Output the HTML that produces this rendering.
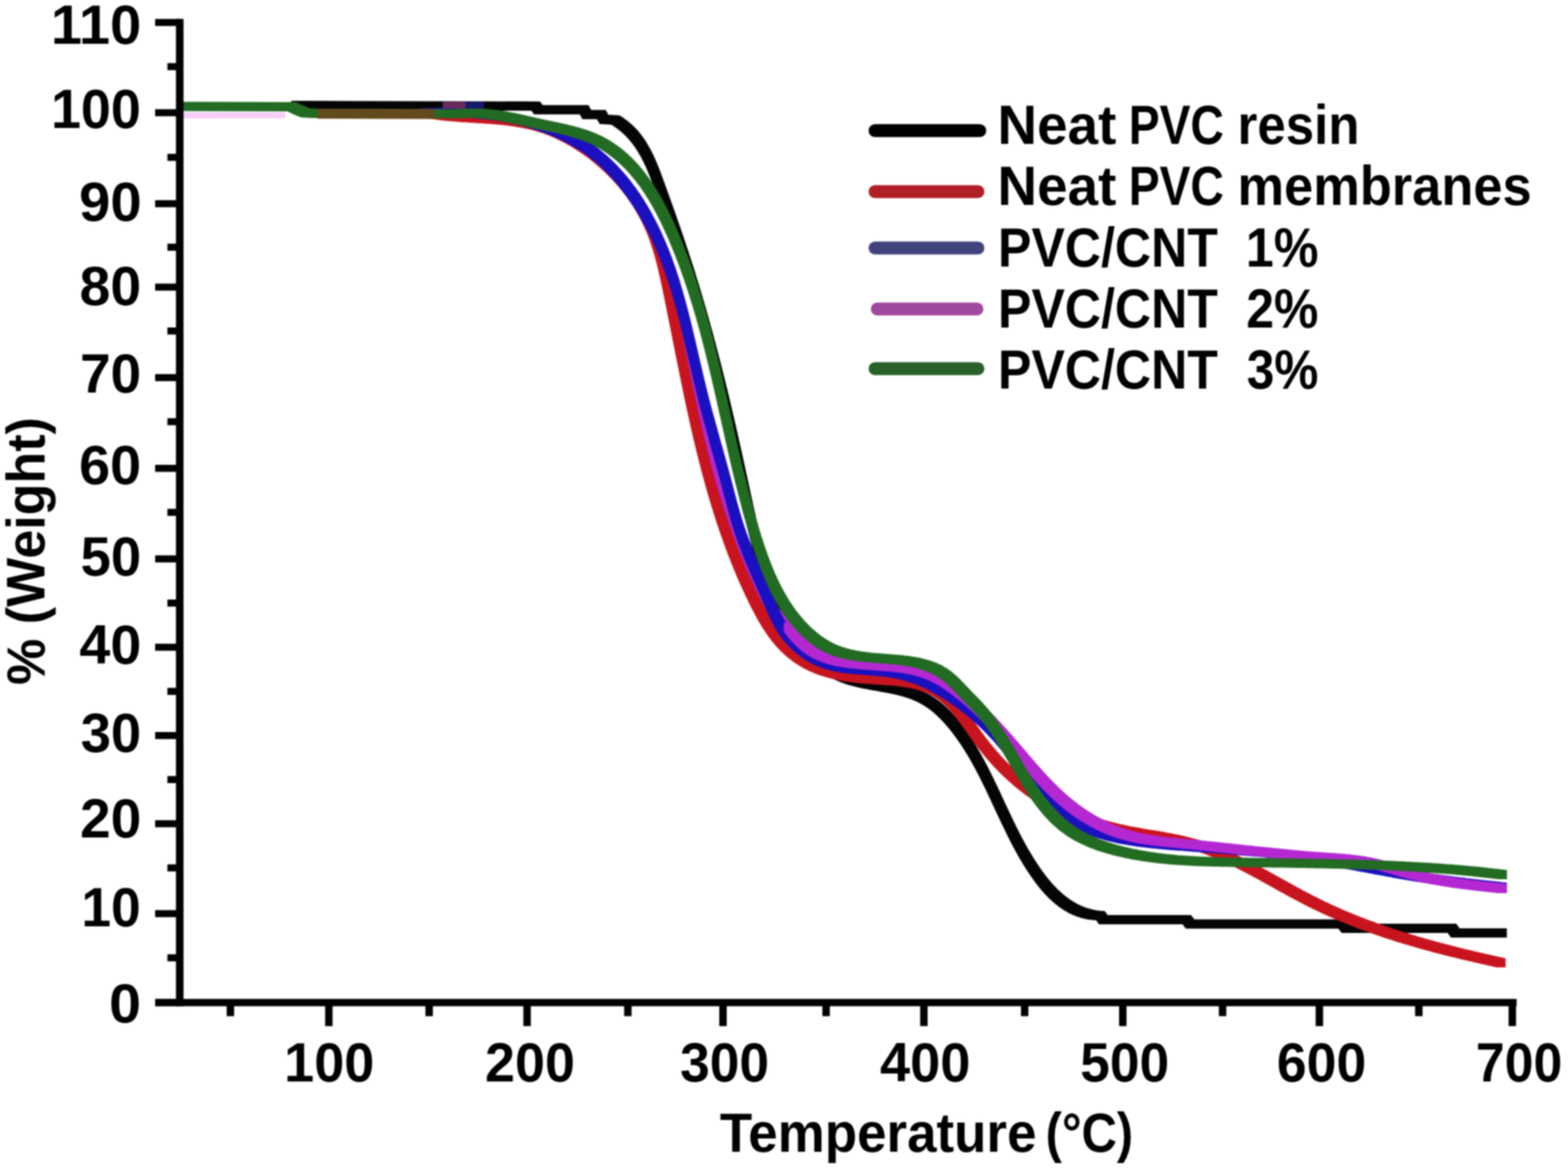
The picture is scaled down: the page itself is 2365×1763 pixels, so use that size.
<!DOCTYPE html>
<html><head><meta charset="utf-8"><title>TGA curves</title>
<style>
html,body{margin:0;padding:0;background:#fff;}
svg{display:block;}
</style></head>
<body>
<svg width="2365" height="1763" viewBox="0 0 2365 1763">
<defs><filter id="soft" filterUnits="userSpaceOnUse" x="0" y="0" width="2365" height="1763" color-interpolation-filters="sRGB"><feGaussianBlur stdDeviation="1.0"/></filter></defs>
<rect width="2365" height="1763" fill="#fff"/>
<g filter="url(#soft)">
<rect width="2365" height="1763" fill="#fff"/>
<defs>
<path id="ck" d="M446.0,159.0 L808.0,160.0 L812.0,165.4 L881.0,165.4 L885.0,172.7 L907.0,172.7 L911.0,180.0 L928.0,181.0 L928.0,181.0 L930.8,182.7 L933.4,184.4 L936.0,186.3 L938.6,188.1 L941.0,190.0 L943.4,192.0 L945.7,194.0 L947.9,196.0 L950.1,198.1 L952.1,200.3 L954.2,202.5 L956.1,204.7 L958.0,207.0 L959.9,209.3 L961.7,211.6 L963.4,214.0 L965.1,216.4 L966.7,218.9 L968.3,221.4 L969.8,223.9 L971.3,226.4 L972.8,229.0 L974.2,231.6 L975.5,234.2 L976.9,236.9 L978.2,239.5 L979.5,242.2 L980.7,244.9 L981.9,247.7 L983.1,250.4 L984.2,253.2 L985.4,256.0 L986.5,258.7 L987.6,261.5 L988.7,264.3 L989.8,267.2 L990.8,270.0 L991.9,272.8 L992.9,275.6 L993.9,278.5 L995.0,281.3 L996.0,284.2 L997.0,287.0 L998.1,289.8 L999.1,292.7 L1000.1,295.5 L1001.1,298.4 L1002.2,301.2 L1003.2,304.0 L1004.2,306.9 L1005.2,309.7 L1006.2,312.6 L1007.2,315.4 L1008.2,318.2 L1009.3,321.1 L1010.3,323.9 L1011.3,326.8 L1012.3,329.6 L1013.3,332.4 L1014.3,335.3 L1015.2,338.1 L1016.2,341.0 L1017.2,343.8 L1018.2,346.7 L1019.2,349.5 L1020.2,352.3 L1021.1,355.2 L1022.1,358.0 L1023.1,360.9 L1024.1,363.7 L1025.0,366.6 L1026.0,369.4 L1026.9,372.3 L1027.9,375.1 L1028.8,378.0 L1029.8,380.8 L1030.7,383.7 L1031.7,386.5 L1032.6,389.4 L1033.5,392.3 L1034.5,395.1 L1035.4,398.0 L1036.3,400.8 L1037.2,403.7 L1038.2,406.5 L1039.1,409.4 L1040.0,412.3 L1040.9,415.1 L1041.8,418.0 L1042.7,420.9 L1043.5,423.7 L1044.4,426.6 L1045.3,429.5 L1046.2,432.3 L1047.1,435.2 L1047.9,438.1 L1048.8,440.9 L1049.7,443.8 L1050.5,446.7 L1051.4,449.6 L1052.2,452.4 L1053.1,455.3 L1053.9,458.2 L1054.8,461.1 L1055.6,463.9 L1056.4,466.8 L1057.3,469.7 L1058.1,472.6 L1058.9,475.5 L1059.7,478.3 L1060.6,481.2 L1061.4,484.1 L1062.2,487.0 L1063.0,489.9 L1063.8,492.8 L1064.6,495.7 L1065.4,498.6 L1066.2,501.4 L1067.0,504.3 L1067.8,507.2 L1068.6,510.1 L1069.4,513.0 L1070.1,515.9 L1070.9,518.8 L1071.7,521.7 L1072.5,524.6 L1073.2,527.5 L1074.0,530.4 L1074.8,533.3 L1075.5,536.2 L1076.3,539.1 L1077.0,542.0 L1077.8,544.9 L1078.5,547.8 L1079.3,550.7 L1080.0,553.6 L1080.8,556.5 L1081.5,559.4 L1082.2,562.3 L1083.0,565.2 L1083.7,568.2 L1084.4,571.1 L1085.1,574.0 L1085.9,576.9 L1086.6,579.8 L1087.3,582.7 L1088.0,585.6 L1088.7,588.5 L1089.5,591.5 L1090.2,594.4 L1090.9,597.3 L1091.6,600.2 L1092.3,603.1 L1093.0,606.1 L1093.7,609.0 L1094.4,611.9 L1095.1,614.8 L1095.8,617.7 L1096.5,620.7 L1097.1,623.6 L1097.8,626.5 L1098.5,629.4 L1099.2,632.4 L1099.9,635.3 L1100.6,638.2 L1101.2,641.2 L1101.9,644.1 L1102.6,647.0 L1103.3,650.0 L1103.9,652.9 L1104.6,655.8 L1105.3,658.8 L1105.9,661.7 L1106.6,664.6 L1107.3,667.6 L1107.9,670.5 L1108.6,673.4 L1109.2,676.4 L1109.9,679.3 L1110.5,682.3 L1111.2,685.2 L1111.8,688.1 L1112.5,691.1 L1113.1,694.0 L1113.8,697.0 L1114.4,699.9 L1115.1,702.9 L1115.7,705.8 L1116.4,708.7 L1117.0,711.7 L1117.7,714.6 L1118.3,717.6 L1118.9,720.5 L1119.6,723.5 L1120.2,726.4 L1120.8,729.4 L1121.5,732.3 L1122.1,735.3 L1122.7,738.3 L1123.4,741.2 L1124.0,744.2 L1124.7,747.1 L1125.3,750.1 L1125.9,753.0 L1126.6,756.0 L1127.2,758.9 L1127.9,761.9 L1128.5,764.8 L1129.1,767.8 L1129.8,770.7 L1130.5,773.7 L1131.1,776.6 L1131.8,779.6 L1132.5,782.5 L1133.1,785.4 L1133.8,788.4 L1134.5,791.3 L1135.2,794.2 L1135.9,797.2 L1136.6,800.1 L1137.3,803.0 L1138.1,806.0 L1138.8,808.9 L1139.5,811.8 L1140.3,814.7 L1141.1,817.6 L1141.8,820.5 L1142.6,823.4 L1143.4,826.3 L1144.2,829.2 L1145.0,832.1 L1145.8,835.0 L1146.7,837.9 L1147.5,840.7 L1148.4,843.6 L1149.3,846.5 L1150.2,849.3 L1151.1,852.2 L1152.0,855.0 L1152.9,857.9 L1153.9,860.7 L1154.8,863.5 L1155.8,866.4 L1156.8,869.2 L1157.8,872.0 L1158.8,874.8 L1159.9,877.6 L1160.9,880.4 L1162.0,883.2 L1163.1,886.0 L1164.2,888.7 L1165.3,891.5 L1166.5,894.2 L1167.7,897.0 L1168.8,899.7 L1170.1,902.5 L1171.3,905.2 L1172.5,907.9 L1173.8,910.6 L1175.1,913.3 L1176.4,916.0 L1177.8,918.7 L1179.1,921.4 L1180.5,924.0 L1181.9,926.7 L1183.3,929.3 L1184.8,932.0 L1186.3,934.6 L1187.8,937.2 L1189.3,939.8 L1190.9,942.4 L1192.4,945.0 L1194.1,947.6 L1195.7,950.1 L1197.3,952.7 L1199.0,955.2 L1200.8,957.7 L1202.5,960.3 L1204.3,962.7 L1206.1,965.2 L1207.9,967.7 L1209.8,970.1 L1211.6,972.5 L1213.5,974.9 L1215.5,977.2 L1217.5,979.6 L1219.5,981.9 L1221.5,984.1 L1223.5,986.3 L1225.6,988.5 L1227.8,990.7 L1229.9,992.8 L1232.1,994.8 L1234.3,996.9 L1236.5,998.8 L1238.8,1000.8 L1241.1,1002.6 L1243.4,1004.5 L1245.8,1006.2 L1248.2,1008.0 L1250.6,1009.6 L1253.1,1011.2 L1255.6,1012.8 L1258.1,1014.3 L1260.7,1015.7 L1263.3,1017.1 L1265.9,1018.4 L1268.6,1019.6 L1271.3,1020.8 L1274.0,1021.9 L1276.7,1022.9 L1279.5,1023.9 L1282.3,1024.8 L1285.1,1025.7 L1288.0,1026.6 L1290.9,1027.4 L1293.7,1028.1 L1296.7,1028.8 L1299.6,1029.5 L1302.5,1030.2 L1305.5,1030.8 L1308.5,1031.4 L1311.5,1032.0 L1314.5,1032.6 L1317.5,1033.2 L1320.5,1033.7 L1323.5,1034.3 L1326.5,1034.8 L1329.6,1035.3 L1332.6,1035.9 L1335.6,1036.4 L1338.6,1037.0 L1341.6,1037.5 L1344.6,1038.1 L1347.6,1038.7 L1350.6,1039.3 L1353.6,1039.9 L1356.6,1040.6 L1359.5,1041.3 L1362.4,1042.0 L1365.3,1042.8 L1368.2,1043.6 L1371.1,1044.5 L1373.9,1045.4 L1376.7,1046.3 L1379.5,1047.3 L1382.3,1048.4 L1385.0,1049.5 L1387.7,1050.6 L1390.3,1051.9 L1393.0,1053.2 L1395.5,1054.6 L1398.1,1056.0 L1400.6,1057.6 L1403.0,1059.2 L1405.4,1060.8 L1407.8,1062.5 L1410.2,1064.3 L1412.5,1066.1 L1414.8,1068.0 L1417.0,1070.0 L1419.2,1072.0 L1421.4,1074.0 L1423.5,1076.1 L1425.6,1078.2 L1427.7,1080.4 L1429.8,1082.6 L1431.8,1084.8 L1433.8,1087.0 L1435.7,1089.3 L1437.7,1091.7 L1439.6,1094.0 L1441.4,1096.4 L1443.3,1098.7 L1445.1,1101.1 L1446.9,1103.6 L1448.7,1106.0 L1450.4,1108.4 L1452.2,1110.9 L1453.9,1113.4 L1455.6,1115.8 L1457.2,1118.3 L1458.8,1120.9 L1460.5,1123.4 L1462.1,1125.9 L1463.6,1128.5 L1465.2,1131.0 L1466.7,1133.6 L1468.3,1136.2 L1469.8,1138.8 L1471.3,1141.4 L1472.7,1144.0 L1474.2,1146.6 L1475.6,1149.3 L1477.1,1151.9 L1478.5,1154.5 L1479.9,1157.2 L1481.3,1159.9 L1482.7,1162.5 L1484.1,1165.2 L1485.4,1167.9 L1486.8,1170.6 L1488.1,1173.3 L1489.4,1176.0 L1490.8,1178.7 L1492.1,1181.4 L1493.4,1184.2 L1494.7,1186.9 L1496.0,1189.6 L1497.3,1192.3 L1498.6,1195.1 L1499.9,1197.8 L1501.2,1200.5 L1502.4,1203.3 L1503.7,1206.0 L1505.0,1208.8 L1506.3,1211.5 L1507.6,1214.3 L1508.8,1217.0 L1510.1,1219.8 L1511.4,1222.5 L1512.7,1225.2 L1514.0,1228.0 L1515.3,1230.7 L1516.6,1233.5 L1517.9,1236.2 L1519.2,1238.9 L1520.5,1241.7 L1521.8,1244.4 L1523.1,1247.1 L1524.4,1249.8 L1525.8,1252.6 L1527.1,1255.3 L1528.5,1258.0 L1529.9,1260.7 L1531.2,1263.4 L1532.6,1266.1 L1534.0,1268.7 L1535.4,1271.4 L1536.9,1274.1 L1538.3,1276.8 L1539.8,1279.4 L1541.2,1282.1 L1542.7,1284.7 L1544.2,1287.3 L1545.8,1289.9 L1547.3,1292.5 L1548.9,1295.1 L1550.4,1297.7 L1552.0,1300.3 L1553.6,1302.9 L1555.3,1305.4 L1556.9,1308.0 L1558.6,1310.5 L1560.3,1313.0 L1562.0,1315.5 L1563.8,1318.0 L1565.5,1320.5 L1567.3,1322.9 L1569.1,1325.4 L1571.0,1327.8 L1572.8,1330.1 L1574.7,1332.5 L1576.7,1334.8 L1578.6,1337.1 L1580.6,1339.4 L1582.6,1341.6 L1584.7,1343.8 L1586.7,1345.9 L1588.8,1348.0 L1591.0,1350.1 L1593.2,1352.1 L1595.4,1354.0 L1597.6,1355.9 L1599.9,1357.8 L1602.2,1359.6 L1604.5,1361.3 L1606.9,1363.0 L1609.3,1364.6 L1611.8,1366.2 L1614.3,1367.7 L1616.8,1369.1 L1619.4,1370.5 L1622.0,1371.8 L1624.7,1373.0 L1627.4,1374.1 L1630.1,1375.2 L1632.9,1376.1 L1635.7,1377.0 L1638.6,1377.8 L1641.5,1378.6 L1644.5,1379.2 L1647.5,1379.8 L1650.5,1380.2 L1653.6,1380.6 L1656.8,1380.8 L1660.0,1381.0 L1660.0,1381.0 L1664.0,1387.0 L1790.0,1387.0 L1795.0,1393.5 L2025.0,1393.5 L2030.0,1400.0 L2190.0,1400.0 L2195.0,1407.0 L2266.0,1407.0"/>
<path id="cp" d="M640.0,171.0 L642.9,170.8 L645.8,170.6 L648.7,170.5 L651.6,170.3 L654.5,170.2 L657.5,170.0 L660.4,169.9 L663.4,169.8 L666.3,169.8 L669.3,169.7 L672.3,169.6 L675.3,169.6 L678.3,169.6 L681.3,169.6 L684.2,169.6 L687.3,169.6 L690.3,169.7 L693.3,169.8 L696.3,169.8 L699.3,169.9 L702.3,170.1 L705.4,170.2 L708.4,170.4 L711.4,170.5 L714.5,170.7 L717.5,170.9 L720.5,171.2 L723.6,171.4 L726.6,171.7 L729.6,172.0 L732.7,172.3 L735.7,172.6 L738.7,173.0 L741.8,173.4 L744.8,173.8 L747.8,174.2 L750.9,174.6 L753.9,175.1 L756.9,175.5 L759.9,176.0 L762.9,176.6 L765.9,177.1 L768.9,177.7 L771.9,178.3 L774.9,178.9 L777.9,179.5 L780.9,180.2 L783.8,180.9 L786.8,181.6 L789.8,182.3 L792.7,183.1 L795.6,183.9 L798.6,184.7 L801.5,185.5 L804.4,186.4 L807.3,187.2 L810.2,188.2 L813.1,189.1 L815.9,190.1 L818.8,191.0 L821.6,192.1 L824.5,193.1 L827.3,194.2 L830.1,195.3 L832.9,196.4 L835.7,197.5 L838.5,198.7 L841.2,199.9 L843.9,201.2 L846.7,202.4 L849.4,203.7 L852.1,205.0 L854.7,206.4 L857.4,207.8 L860.0,209.2 L862.7,210.6 L865.3,212.1 L867.9,213.6 L870.4,215.1 L873.0,216.7 L875.5,218.2 L878.0,219.9 L880.5,221.5 L883.0,223.2 L885.5,224.9 L887.9,226.6 L890.3,228.3 L892.7,230.1 L895.1,231.9 L897.5,233.8 L899.8,235.6 L902.1,237.5 L904.4,239.4 L906.7,241.3 L908.9,243.3 L911.2,245.3 L913.4,247.3 L915.6,249.3 L917.8,251.4 L919.9,253.5 L922.0,255.6 L924.1,257.7 L926.2,259.8 L928.3,262.0 L930.3,264.2 L932.3,266.4 L934.3,268.6 L936.3,270.9 L938.2,273.2 L940.2,275.5 L942.0,277.8 L943.9,280.1 L945.8,282.5 L947.6,284.8 L949.4,287.2 L951.2,289.7 L952.9,292.1 L954.6,294.5 L956.3,297.0 L958.0,299.5 L959.6,302.0 L961.3,304.5 L962.9,307.1 L964.4,309.6 L966.0,312.2 L967.5,314.8 L969.0,317.4 L970.4,320.0 L971.9,322.6 L973.3,325.3 L974.6,327.9 L976.0,330.6 L977.3,333.3 L978.6,336.0 L979.9,338.7 L981.1,341.5 L982.3,344.2 L983.5,347.0 L984.7,349.7 L985.8,352.5 L987.0,355.3 L988.1,358.1 L989.1,360.9 L990.2,363.7 L991.2,366.5 L992.3,369.4 L993.3,372.2 L994.2,375.1 L995.2,377.9 L996.2,380.8 L997.1,383.7 L998.0,386.6 L998.9,389.4 L999.8,392.3 L1000.7,395.2 L1001.6,398.1 L1002.4,401.0 L1003.3,403.9 L1004.1,406.9 L1005.0,409.8 L1005.8,412.7 L1006.6,415.6 L1007.4,418.5 L1008.2,421.4 L1009.0,424.4 L1009.8,427.3 L1010.6,430.2 L1011.4,433.1 L1012.1,436.0 L1012.9,439.0 L1013.7,441.9 L1014.5,444.8 L1015.2,447.7 L1016.0,450.6 L1016.7,453.5 L1017.5,456.5 L1018.3,459.4 L1019.0,462.3 L1019.8,465.2 L1020.5,468.1 L1021.3,471.0 L1022.0,473.9 L1022.8,476.8 L1023.5,479.7 L1024.2,482.6 L1025.0,485.5 L1025.7,488.5 L1026.4,491.4 L1027.2,494.3 L1027.9,497.2 L1028.6,500.1 L1029.4,503.0 L1030.1,505.9 L1030.8,508.8 L1031.5,511.7 L1032.2,514.6 L1033.0,517.5 L1033.7,520.4 L1034.4,523.3 L1035.1,526.2 L1035.8,529.1 L1036.5,532.0 L1037.2,534.9 L1037.9,537.8 L1038.6,540.7 L1039.3,543.6 L1040.0,546.5 L1040.7,549.5 L1041.4,552.4 L1042.1,555.3 L1042.8,558.2 L1043.5,561.1 L1044.2,564.0 L1044.9,566.9 L1045.6,569.8 L1046.3,572.7 L1047.0,575.6 L1047.7,578.5 L1048.3,581.4 L1049.0,584.4 L1049.7,587.3 L1050.4,590.2 L1051.1,593.1 L1051.8,596.0 L1052.4,598.9 L1053.1,601.9 L1053.8,604.8 L1054.5,607.7 L1055.2,610.6 L1055.9,613.5 L1056.5,616.5 L1057.2,619.4 L1057.9,622.3 L1058.6,625.2 L1059.2,628.2 L1059.9,631.1 L1060.6,634.0 L1061.3,637.0 L1062.0,639.9 L1062.6,642.8 L1063.3,645.8 L1064.0,648.7 L1064.7,651.6 L1065.3,654.6 L1066.0,657.5 L1066.7,660.5 L1067.4,663.4 L1068.1,666.4 L1068.7,669.3 L1069.4,672.3 L1070.1,675.2 L1070.8,678.2 L1071.5,681.1 L1072.1,684.1 L1072.8,687.1 L1073.5,690.0 L1074.2,693.0 L1074.9,696.0 L1075.5,698.9 L1076.2,701.9 L1076.9,704.9 L1077.6,707.9 L1078.3,710.8 L1079.0,713.8 L1079.7,716.8 L1080.4,719.8 L1081.1,722.7 L1081.8,725.7 L1082.5,728.7 L1083.3,731.7 L1084.0,734.6 L1084.7,737.6 L1085.4,740.6 L1086.2,743.5 L1086.9,746.5 L1087.7,749.4 L1088.5,752.4 L1089.2,755.4 L1090.0,758.3 L1090.8,761.3 L1091.6,764.2 L1092.4,767.1 L1093.2,770.1 L1094.0,773.0 L1094.9,775.9 L1095.7,778.9 L1096.6,781.8 L1097.4,784.7 L1098.3,787.6 L1099.2,790.5 L1100.1,793.4 L1101.0,796.3 L1102.0,799.1 L1102.9,802.0 L1103.9,804.9 L1104.8,807.7 L1105.8,810.6 L1106.8,813.4 L1107.8,816.3 L1108.8,819.1 L1109.9,821.9 L1110.9,824.7 L1112.0,827.5 L1113.1,830.3 L1114.2,833.1 L1115.3,835.8 L1116.5,838.6 L1117.6,841.3 L1118.8,844.1 L1120.0,846.8 L1121.2,849.5 L1122.4,852.2 L1123.7,854.9 L1125.0,857.6 L1126.3,860.3 L1127.6,862.9 L1128.9,865.5 L1130.2,868.2 L1131.6,870.8 L1133.0,873.4 L1134.4,876.0 L1135.9,878.6 L1137.3,881.1 L1138.8,883.7 L1140.3,886.2 L1141.9,888.7 L1143.4,891.2 L1145.0,893.7 L1146.6,896.2 L1148.3,898.6 L1149.9,901.1 L1151.6,903.5 L1153.3,905.9 L1155.1,908.3 L1156.8,910.6 L1158.6,913.0 L1160.4,915.3 L1162.3,917.6 L1164.2,919.9 L1166.1,922.2 L1168.0,924.5 L1170.0,926.7 L1172.0,928.9 L1174.0,931.1 L1176.0,933.3 L1178.1,935.5 L1180.2,937.6 L1182.4,939.8 L1184.5,941.9 L1186.8,943.9 L1189.0,946.0"/>
<path id="cr" d="M486.0,171.0 L655.0,172.0 L655.0,172.0 L657.9,172.5 L660.8,172.9 L663.8,173.4 L666.7,173.8 L669.6,174.2 L672.6,174.5 L675.6,174.9 L678.5,175.2 L681.5,175.5 L684.5,175.8 L687.5,176.0 L690.5,176.3 L693.5,176.5 L696.5,176.8 L699.5,177.0 L702.5,177.2 L705.5,177.4 L708.6,177.6 L711.6,177.8 L714.6,178.0 L717.6,178.2 L720.7,178.3 L723.7,178.5 L726.7,178.7 L729.8,178.9 L732.8,179.1 L735.8,179.3 L738.9,179.5 L741.9,179.7 L744.9,179.9 L747.9,180.1 L751.0,180.4 L754.0,180.6 L757.0,180.9 L760.0,181.2 L763.0,181.5 L766.0,181.8 L769.0,182.1 L772.0,182.5 L775.0,182.9 L778.0,183.3 L780.9,183.7 L783.9,184.2 L786.9,184.7 L789.8,185.2 L792.7,185.7 L795.7,186.3 L798.6,186.9 L801.5,187.5 L804.4,188.2 L807.3,188.9 L810.2,189.6 L813.0,190.4 L815.9,191.2 L818.7,192.1 L821.6,193.0 L824.4,193.9 L827.2,194.9 L830.0,195.9 L832.8,197.0 L835.5,198.1 L838.3,199.2 L841.0,200.4 L843.7,201.6 L846.4,202.9 L849.1,204.1 L851.8,205.5 L854.5,206.8 L857.1,208.2 L859.8,209.6 L862.4,211.1 L865.0,212.5 L867.6,214.0 L870.1,215.6 L872.7,217.2 L875.2,218.8 L877.8,220.4 L880.3,222.1 L882.8,223.8 L885.2,225.5 L887.7,227.2 L890.1,229.0 L892.6,230.8 L895.0,232.7 L897.4,234.5 L899.7,236.4 L902.1,238.3 L904.4,240.3 L906.7,242.2 L909.0,244.2 L911.3,246.2 L913.6,248.2 L915.8,250.3 L918.0,252.4 L920.2,254.5 L922.4,256.6 L924.5,258.7 L926.7,260.9 L928.8,263.1 L930.9,265.3 L932.9,267.5 L935.0,269.8 L937.0,272.0 L939.0,274.3 L940.9,276.6 L942.9,279.0 L944.8,281.3 L946.7,283.7 L948.5,286.1 L950.4,288.5 L952.2,290.9 L953.9,293.3 L955.7,295.8 L957.4,298.3 L959.1,300.8 L960.7,303.3 L962.4,305.8 L964.0,308.4 L965.5,310.9 L967.0,313.5 L968.5,316.1 L970.0,318.7 L971.4,321.3 L972.8,324.0 L974.2,326.6 L975.5,329.3 L976.8,331.9 L978.1,334.6 L979.3,337.3 L980.5,340.1 L981.6,342.8 L982.8,345.5 L983.8,348.3 L984.9,351.1 L985.9,353.9 L987.0,356.6 L987.9,359.4 L988.9,362.3 L989.8,365.1 L990.7,367.9 L991.6,370.7 L992.5,373.6 L993.3,376.4 L994.1,379.3 L994.9,382.2 L995.7,385.1 L996.5,387.9 L997.2,390.8 L997.9,393.7 L998.7,396.6 L999.4,399.5 L1000.1,402.5 L1000.7,405.4 L1001.4,408.3 L1002.1,411.2 L1002.7,414.2 L1003.3,417.1 L1004.0,420.0 L1004.6,423.0 L1005.2,425.9 L1005.8,428.8 L1006.5,431.8 L1007.1,434.7 L1007.7,437.7 L1008.3,440.6 L1008.9,443.6 L1009.5,446.5 L1010.1,449.5 L1010.7,452.4 L1011.3,455.4 L1011.9,458.3 L1012.5,461.3 L1013.1,464.2 L1013.7,467.2 L1014.3,470.1 L1014.9,473.1 L1015.4,476.0 L1016.0,479.0 L1016.6,481.9 L1017.2,484.9 L1017.8,487.8 L1018.4,490.8 L1019.0,493.7 L1019.6,496.7 L1020.2,499.6 L1020.7,502.6 L1021.3,505.5 L1021.9,508.5 L1022.5,511.4 L1023.1,514.4 L1023.7,517.3 L1024.3,520.3 L1024.8,523.3 L1025.4,526.2 L1026.0,529.2 L1026.6,532.1 L1027.2,535.1 L1027.8,538.0 L1028.4,541.0 L1029.0,543.9 L1029.6,546.9 L1030.2,549.8 L1030.8,552.8 L1031.4,555.7 L1032.0,558.7 L1032.5,561.6 L1033.2,564.6 L1033.8,567.5 L1034.4,570.5 L1035.0,573.4 L1035.6,576.4 L1036.2,579.3 L1036.8,582.3 L1037.4,585.2 L1038.0,588.2 L1038.6,591.1 L1039.3,594.1 L1039.9,597.0 L1040.5,600.0 L1041.1,602.9 L1041.8,605.9 L1042.4,608.8 L1043.0,611.7 L1043.7,614.7 L1044.3,617.6 L1044.9,620.6 L1045.6,623.5 L1046.2,626.4 L1046.9,629.4 L1047.6,632.3 L1048.2,635.2 L1048.9,638.2 L1049.5,641.1 L1050.2,644.0 L1050.9,647.0 L1051.6,649.9 L1052.2,652.8 L1052.9,655.8 L1053.6,658.7 L1054.3,661.6 L1055.0,664.5 L1055.7,667.5 L1056.4,670.4 L1057.1,673.3 L1057.8,676.2 L1058.6,679.1 L1059.3,682.0 L1060.0,685.0 L1060.8,687.9 L1061.5,690.8 L1062.2,693.7 L1063.0,696.6 L1063.7,699.5 L1064.5,702.4 L1065.3,705.3 L1066.0,708.2 L1066.8,711.1 L1067.6,714.0 L1068.4,716.9 L1069.2,719.8 L1070.0,722.7 L1070.8,725.6 L1071.6,728.5 L1072.4,731.4 L1073.2,734.2 L1074.0,737.1 L1074.9,740.0 L1075.7,742.9 L1076.6,745.8 L1077.4,748.6 L1078.3,751.5 L1079.1,754.4 L1080.0,757.3 L1080.9,760.1 L1081.8,763.0 L1082.7,765.9 L1083.6,768.7 L1084.5,771.6 L1085.4,774.4 L1086.3,777.3 L1087.2,780.1 L1088.2,783.0 L1089.1,785.8 L1090.1,788.7 L1091.0,791.5 L1092.0,794.4 L1093.0,797.2 L1094.0,800.1 L1095.0,802.9 L1096.0,805.7 L1097.0,808.5 L1098.0,811.4 L1099.0,814.2 L1100.0,817.0 L1101.1,819.8 L1102.1,822.7 L1103.2,825.5 L1104.2,828.3 L1105.3,831.1 L1106.4,833.9 L1107.5,836.7 L1108.6,839.5 L1109.7,842.3 L1110.8,845.1 L1112.0,847.9 L1113.1,850.7 L1114.2,853.5 L1115.4,856.2 L1116.6,859.0 L1117.7,861.8 L1118.9,864.6 L1120.1,867.3 L1121.3,870.1 L1122.5,872.9 L1123.8,875.6 L1125.0,878.4 L1126.3,881.1 L1127.5,883.9 L1128.8,886.6 L1130.1,889.4 L1131.3,892.1 L1132.6,894.9 L1134.0,897.6 L1135.3,900.3 L1136.6,903.1 L1137.9,905.8 L1139.3,908.5 L1140.7,911.2 L1142.1,913.9 L1143.5,916.6 L1144.9,919.3 L1146.3,922.0 L1147.8,924.6 L1149.2,927.3 L1150.7,929.9 L1152.2,932.5 L1153.8,935.1 L1155.3,937.7 L1156.9,940.2 L1158.5,942.8 L1160.2,945.3 L1161.8,947.8 L1163.5,950.2 L1165.2,952.7 L1167.0,955.1 L1168.8,957.4 L1170.6,959.8 L1172.4,962.1 L1174.3,964.4 L1176.2,966.6 L1178.2,968.8 L1180.2,971.0 L1182.2,973.2 L1184.3,975.3 L1186.4,977.3 L1188.5,979.4 L1190.7,981.3 L1193.0,983.3 L1195.2,985.2 L1197.5,987.0 L1199.9,988.8 L1202.2,990.6 L1204.7,992.3 L1207.1,994.0 L1209.6,995.6 L1212.1,997.2 L1214.6,998.7 L1217.2,1000.2 L1219.8,1001.6 L1222.4,1002.9 L1225.1,1004.2 L1227.8,1005.5 L1230.5,1006.7 L1233.2,1007.9 L1236.0,1009.0 L1238.8,1010.0 L1241.6,1011.0 L1244.4,1012.0 L1247.3,1012.9 L1250.1,1013.8 L1253.0,1014.6 L1255.9,1015.4 L1258.8,1016.2 L1261.8,1016.9 L1264.7,1017.5 L1267.7,1018.2 L1270.7,1018.8 L1273.7,1019.4 L1276.7,1019.9 L1279.7,1020.4 L1282.8,1020.9 L1285.8,1021.3 L1288.9,1021.8 L1291.9,1022.2 L1295.0,1022.5 L1298.1,1022.9 L1301.2,1023.2 L1304.3,1023.5 L1307.4,1023.8 L1310.5,1024.1 L1313.6,1024.3 L1316.7,1024.6 L1319.8,1024.8 L1322.9,1025.0 L1326.0,1025.2 L1329.1,1025.4 L1332.2,1025.6 L1335.3,1025.9 L1338.4,1026.1 L1341.4,1026.3 L1344.5,1026.5 L1347.6,1026.8 L1350.6,1027.0 L1353.6,1027.3 L1356.6,1027.6 L1359.6,1027.9 L1362.6,1028.3 L1365.6,1028.7 L1368.5,1029.1 L1371.4,1029.5 L1374.3,1030.0 L1377.2,1030.5 L1380.0,1031.1 L1382.8,1031.7 L1385.6,1032.3 L1388.4,1033.0 L1391.1,1033.8 L1393.8,1034.6 L1396.5,1035.4 L1399.1,1036.4 L1401.7,1037.4 L1404.3,1038.4 L1406.8,1039.5 L1409.2,1040.7 L1411.7,1042.0 L1414.1,1043.4 L1416.4,1044.8 L1418.7,1046.3 L1421.0,1047.9 L1423.2,1049.5 L1425.4,1051.3 L1427.5,1053.1 L1429.6,1054.9 L1431.7,1056.9 L1433.8,1058.9 L1435.8,1060.9 L1437.8,1063.0 L1439.7,1065.2 L1441.6,1067.4 L1443.6,1069.6 L1445.4,1071.9 L1447.3,1074.2 L1449.2,1076.5 L1451.0,1078.9 L1452.8,1081.3 L1454.6,1083.8 L1456.5,1086.2 L1458.3,1088.7 L1460.0,1091.2 L1461.8,1093.7 L1463.6,1096.2 L1465.4,1098.8 L1467.2,1101.3 L1469.0,1103.8 L1470.8,1106.3 L1472.6,1108.8 L1474.4,1111.3 L1476.2,1113.8 L1478.1,1116.3 L1479.9,1118.8 L1481.8,1121.2 L1483.7,1123.6 L1485.6,1126.0 L1487.5,1128.4 L1489.4,1130.8 L1491.3,1133.1 L1493.3,1135.5 L1495.3,1137.8 L1497.3,1140.1 L1499.3,1142.3 L1501.3,1144.6 L1503.3,1146.8 L1505.3,1149.1 L1507.4,1151.3 L1509.5,1153.4 L1511.6,1155.6 L1513.7,1157.7 L1515.8,1159.8 L1517.9,1161.9 L1520.1,1164.0 L1522.3,1166.1 L1524.4,1168.1 L1526.6,1170.1 L1528.9,1172.1 L1531.1,1174.1 L1533.3,1176.0 L1535.6,1178.0 L1537.9,1179.9 L1540.2,1181.8 L1542.5,1183.6 L1544.8,1185.5 L1547.2,1187.3 L1549.6,1189.1 L1551.9,1190.9 L1554.3,1192.7 L1556.8,1194.4 L1559.2,1196.1 L1561.7,1197.8 L1564.1,1199.5 L1566.6,1201.1 L1569.1,1202.7 L1571.6,1204.3 L1574.2,1205.9 L1576.7,1207.5 L1579.3,1209.0 L1581.9,1210.5 L1584.5,1212.0 L1587.1,1213.4 L1589.8,1214.9 L1592.4,1216.3 L1595.1,1217.7 L1597.8,1219.1 L1600.5,1220.4 L1603.2,1221.7 L1605.9,1223.0 L1608.6,1224.3 L1611.4,1225.6 L1614.1,1226.8 L1616.9,1228.0 L1619.7,1229.2 L1622.5,1230.4 L1625.3,1231.5 L1628.1,1232.6 L1630.9,1233.7 L1633.8,1234.8 L1636.6,1235.8 L1639.5,1236.9 L1642.3,1237.9 L1645.2,1238.9 L1648.1,1239.8 L1650.9,1240.8 L1653.8,1241.7 L1656.7,1242.6 L1659.6,1243.5 L1662.6,1244.3 L1665.5,1245.1 L1668.4,1246.0 L1671.3,1246.7 L1674.3,1247.5 L1677.2,1248.3 L1680.1,1249.0 L1683.1,1249.7 L1686.0,1250.3 L1689.0,1251.0 L1691.9,1251.6 L1694.9,1252.3 L1697.9,1252.9 L1700.8,1253.4 L1703.8,1254.0 L1706.7,1254.6 L1709.7,1255.1 L1712.7,1255.6 L1715.6,1256.1 L1718.6,1256.7 L1721.6,1257.2 L1724.5,1257.7 L1727.5,1258.2 L1730.5,1258.6 L1733.4,1259.1 L1736.4,1259.6 L1739.4,1260.1 L1742.3,1260.6 L1745.3,1261.1 L1748.2,1261.6 L1751.2,1262.1 L1754.1,1262.7 L1757.1,1263.2 L1760.0,1263.7 L1762.9,1264.3 L1765.9,1264.9 L1768.8,1265.5 L1771.7,1266.1 L1774.6,1266.7 L1777.5,1267.3 L1780.4,1268.0 L1783.3,1268.7 L1786.2,1269.4 L1789.1,1270.1 L1792.0,1270.9 L1794.9,1271.7 L1797.7,1272.5 L1800.6,1273.3 L1803.4,1274.2 L1806.3,1275.1 L1809.1,1276.0 L1811.9,1276.9 L1814.7,1277.9 L1817.6,1278.9 L1820.4,1279.9 L1823.2,1281.0 L1826.0,1282.0 L1828.7,1283.1 L1831.5,1284.2 L1834.3,1285.3 L1837.1,1286.4 L1839.8,1287.6 L1842.6,1288.8 L1845.3,1290.0 L1848.1,1291.2 L1850.8,1292.4 L1853.6,1293.7 L1856.3,1294.9 L1859.0,1296.2 L1861.7,1297.5 L1864.4,1298.8 L1867.1,1300.1 L1869.8,1301.4 L1872.5,1302.8 L1875.2,1304.1 L1877.9,1305.5 L1880.6,1306.9 L1883.3,1308.3 L1885.9,1309.7 L1888.6,1311.1 L1891.3,1312.5 L1893.9,1313.9 L1896.6,1315.4 L1899.3,1316.8 L1901.9,1318.2 L1904.6,1319.7 L1907.2,1321.1 L1909.9,1322.6 L1912.5,1324.1 L1915.1,1325.5 L1917.8,1327.0 L1920.4,1328.5 L1923.1,1329.9 L1925.7,1331.4 L1928.4,1332.9 L1931.0,1334.3 L1933.7,1335.8 L1936.3,1337.3 L1938.9,1338.7 L1941.6,1340.2 L1944.2,1341.7 L1946.9,1343.1 L1949.5,1344.6 L1952.2,1346.0 L1954.8,1347.4 L1957.5,1348.9 L1960.2,1350.3 L1962.8,1351.7 L1965.5,1353.1 L1968.2,1354.5 L1970.8,1355.9 L1973.5,1357.3 L1976.2,1358.7 L1978.9,1360.0 L1981.6,1361.4 L1984.3,1362.7 L1987.0,1364.0 L1989.7,1365.4 L1992.4,1366.7 L1995.1,1367.9 L1997.8,1369.2 L2000.5,1370.5 L2003.3,1371.8 L2006.0,1373.0 L2008.7,1374.2 L2011.5,1375.5 L2014.2,1376.7 L2017.0,1377.9 L2019.7,1379.1 L2022.5,1380.3 L2025.2,1381.4 L2028.0,1382.6 L2030.8,1383.7 L2033.5,1384.9 L2036.3,1386.0 L2039.1,1387.1 L2041.9,1388.2 L2044.6,1389.4 L2047.4,1390.4 L2050.2,1391.5 L2053.0,1392.6 L2055.8,1393.7 L2058.6,1394.7 L2061.4,1395.8 L2064.3,1396.8 L2067.1,1397.8 L2069.9,1398.9 L2072.7,1399.9 L2075.5,1400.9 L2078.4,1401.9 L2081.2,1402.8 L2084.0,1403.8 L2086.9,1404.8 L2089.7,1405.8 L2092.5,1406.7 L2095.4,1407.7 L2098.2,1408.6 L2101.1,1409.5 L2103.9,1410.4 L2106.8,1411.4 L2109.7,1412.3 L2112.5,1413.2 L2115.4,1414.0 L2118.3,1414.9 L2121.1,1415.8 L2124.0,1416.7 L2126.9,1417.5 L2129.8,1418.4 L2132.6,1419.3 L2135.5,1420.1 L2138.4,1420.9 L2141.3,1421.8 L2144.2,1422.6 L2147.1,1423.4 L2150.0,1424.2 L2152.9,1425.0 L2155.8,1425.8 L2158.7,1426.6 L2161.6,1427.4 L2164.5,1428.2 L2167.4,1429.0 L2170.3,1429.7 L2173.2,1430.5 L2176.1,1431.2 L2179.0,1432.0 L2181.9,1432.7 L2184.8,1433.5 L2187.8,1434.2 L2190.7,1435.0 L2193.6,1435.7 L2196.5,1436.4 L2199.4,1437.1 L2202.4,1437.9 L2205.3,1438.6 L2208.2,1439.3 L2211.1,1440.0 L2214.1,1440.7 L2217.0,1441.4 L2219.9,1442.1 L2222.9,1442.7 L2225.8,1443.4 L2228.7,1444.1 L2231.7,1444.8 L2234.6,1445.5 L2237.5,1446.1 L2240.5,1446.8 L2243.4,1447.4 L2246.4,1448.1 L2249.3,1448.8 L2252.2,1449.4 L2255.2,1450.1 L2258.1,1450.7 L2261.1,1451.4 L2264.0,1452.0"/>
<path id="cb" d="M640.0,171.0 L642.9,170.8 L645.7,170.6 L648.6,170.5 L651.5,170.3 L654.4,170.2 L657.3,170.1 L660.3,170.0 L663.2,169.9 L666.1,169.8 L669.1,169.8 L672.0,169.7 L675.0,169.7 L678.0,169.7 L681.0,169.7 L684.0,169.7 L687.0,169.7 L690.0,169.8 L693.0,169.9 L696.0,169.9 L699.0,170.0 L702.0,170.2 L705.0,170.3 L708.1,170.5 L711.1,170.6 L714.1,170.8 L717.2,171.0 L720.2,171.3 L723.3,171.5 L726.3,171.8 L729.3,172.1 L732.4,172.4 L735.4,172.7 L738.5,173.0 L741.5,173.4 L744.5,173.8 L747.6,174.2 L750.6,174.6 L753.6,175.0 L756.7,175.5 L759.7,176.0 L762.7,176.5 L765.7,177.0 L768.7,177.6 L771.7,178.1 L774.8,178.7 L777.7,179.4 L780.7,180.0 L783.7,180.7 L786.7,181.4 L789.7,182.1 L792.6,182.8 L795.6,183.6 L798.5,184.3 L801.5,185.1 L804.4,186.0 L807.3,186.8 L810.2,187.7 L813.1,188.6 L816.0,189.5 L818.8,190.5 L821.7,191.5 L824.5,192.5 L827.4,193.5 L830.2,194.6 L833.0,195.7 L835.8,196.8 L838.6,197.9 L841.3,199.1 L844.1,200.3 L846.8,201.5 L849.5,202.8 L852.2,204.0 L854.9,205.3 L857.6,206.7 L860.2,208.0 L862.9,209.4 L865.5,210.9 L868.1,212.3 L870.6,213.8 L873.2,215.3 L875.7,216.8 L878.3,218.4 L880.7,220.0 L883.2,221.6 L885.7,223.3 L888.1,225.0 L890.5,226.7 L892.9,228.5 L895.2,230.3 L897.6,232.1 L899.9,233.9 L902.2,235.8 L904.5,237.7 L906.7,239.6 L908.9,241.6 L911.2,243.6 L913.3,245.6 L915.5,247.6 L917.6,249.7 L919.8,251.8 L921.9,253.9 L923.9,256.0 L926.0,258.2 L928.0,260.4 L930.0,262.6 L932.0,264.8 L934.0,267.0 L936.0,269.3 L937.9,271.6 L939.8,273.9 L941.7,276.3 L943.6,278.6 L945.4,281.0 L947.2,283.4 L949.0,285.8 L950.8,288.2 L952.6,290.7 L954.3,293.1 L956.1,295.6 L957.8,298.1 L959.5,300.6 L961.1,303.2 L962.8,305.7 L964.4,308.3 L966.0,310.8 L967.6,313.4 L969.2,316.0 L970.7,318.6 L972.3,321.3 L973.8,323.9 L975.3,326.5 L976.7,329.2 L978.2,331.9 L979.6,334.6 L981.0,337.2 L982.4,339.9 L983.8,342.6 L985.2,345.4 L986.5,348.1 L987.8,350.8 L989.1,353.5 L990.4,356.3 L991.7,359.0 L992.9,361.8 L994.1,364.6 L995.4,367.3 L996.6,370.1 L997.7,372.9 L998.9,375.6 L1000.0,378.4 L1001.2,381.2 L1002.3,384.0 L1003.4,386.8 L1004.4,389.6 L1005.5,392.4 L1006.6,395.2 L1007.6,398.1 L1008.6,400.9 L1009.6,403.7 L1010.6,406.5 L1011.6,409.4 L1012.6,412.2 L1013.5,415.0 L1014.4,417.9 L1015.4,420.7 L1016.3,423.6 L1017.2,426.4 L1018.1,429.3 L1019.0,432.2 L1019.8,435.0 L1020.7,437.9 L1021.5,440.8 L1022.4,443.6 L1023.2,446.5 L1024.0,449.4 L1024.8,452.3 L1025.7,455.2 L1026.4,458.1 L1027.2,460.9 L1028.0,463.8 L1028.8,466.7 L1029.5,469.6 L1030.3,472.5 L1031.1,475.4 L1031.8,478.3 L1032.5,481.2 L1033.3,484.2 L1034.0,487.1 L1034.7,490.0 L1035.4,492.9 L1036.1,495.8 L1036.8,498.7 L1037.5,501.6 L1038.2,504.6 L1038.9,507.5 L1039.6,510.4 L1040.3,513.3 L1041.0,516.3 L1041.7,519.2 L1042.4,522.1 L1043.0,525.0 L1043.7,528.0 L1044.4,530.9 L1045.1,533.8 L1045.8,536.8 L1046.4,539.7 L1047.1,542.6 L1047.8,545.5 L1048.5,548.5 L1049.1,551.4 L1049.8,554.3 L1050.5,557.3 L1051.2,560.2 L1051.9,563.1 L1052.5,566.1 L1053.2,569.0 L1053.9,571.9 L1054.6,574.8 L1055.3,577.8 L1056.0,580.7 L1056.7,583.6 L1057.4,586.6 L1058.1,589.5 L1058.9,592.4 L1059.6,595.3 L1060.3,598.2 L1061.0,601.2 L1061.8,604.1 L1062.5,607.0 L1063.3,609.9 L1064.0,612.8 L1064.8,615.7 L1065.6,618.7 L1066.3,621.6 L1067.1,624.5 L1067.9,627.4 L1068.7,630.3 L1069.5,633.2 L1070.3,636.1 L1071.1,639.0 L1071.9,641.9 L1072.7,644.8 L1073.5,647.7 L1074.3,650.6 L1075.1,653.5 L1075.9,656.4 L1076.7,659.4 L1077.5,662.3 L1078.3,665.2 L1079.1,668.1 L1079.9,671.0 L1080.7,673.9 L1081.5,676.8 L1082.4,679.7 L1083.2,682.6 L1084.0,685.5 L1084.8,688.4 L1085.6,691.3 L1086.4,694.2 L1087.2,697.1 L1088.0,699.9 L1088.8,702.8 L1089.6,705.7 L1090.4,708.6 L1091.2,711.5 L1092.0,714.4 L1092.8,717.3 L1093.5,720.3 L1094.3,723.2 L1095.1,726.1 L1095.9,729.0 L1096.6,731.9 L1097.4,734.8 L1098.2,737.7 L1098.9,740.6 L1099.7,743.5 L1100.4,746.4 L1101.2,749.3 L1101.9,752.2 L1102.7,755.1 L1103.5,758.0 L1104.2,760.9 L1105.0,763.8 L1105.8,766.6 L1106.6,769.5 L1107.4,772.4 L1108.2,775.3 L1109.0,778.2 L1109.9,781.0 L1110.7,783.9 L1111.6,786.8 L1112.4,789.6 L1113.3,792.5 L1114.2,795.3 L1115.2,798.2 L1116.1,801.0 L1117.1,803.8 L1118.0,806.6 L1119.0,809.5 L1120.1,812.3 L1121.1,815.1 L1122.1,817.9 L1123.2,820.7 L1124.3,823.5 L1125.4,826.3 L1126.5,829.0 L1127.6,831.8 L1128.7,834.6 L1129.8,837.4 L1131.0,840.1 L1132.1,842.9 L1133.3,845.7 L1134.5,848.5 L1135.7,851.2 L1136.8,854.0 L1138.0,856.8 L1139.2,859.5 L1140.4,862.3 L1141.6,865.0 L1142.9,867.8 L1144.1,870.6 L1145.3,873.3 L1146.5,876.1 L1147.7,878.9 L1148.9,881.6 L1150.2,884.4 L1151.4,887.2 L1152.6,890.0 L1153.8,892.7 L1155.0,895.5 L1156.2,898.3 L1157.4,901.1 L1158.6,903.9 L1159.8,906.7 L1161.0,909.5 L1162.2,912.3 L1163.4,915.0 L1164.7,917.8 L1165.9,920.6 L1167.2,923.3 L1168.4,926.1 L1169.7,928.8 L1171.1,931.5 L1172.4,934.2 L1173.8,936.8 L1175.3,939.4 L1176.8,942.0 L1178.3,944.6 L1179.8,947.1 L1181.5,949.6 L1183.1,952.0 L1184.9,954.5 L1186.6,956.8 L1188.5,959.2 L1190.4,961.4 L1192.3,963.7 L1194.3,965.9 L1196.3,968.0 L1198.3,970.1 L1200.5,972.2 L1202.6,974.2 L1204.8,976.1 L1207.1,978.1 L1209.3,979.9 L1211.7,981.7 L1214.0,983.5 L1216.4,985.2 L1218.9,986.8 L1221.3,988.4 L1223.8,989.9 L1226.4,991.4 L1229.0,992.8 L1231.6,994.2 L1234.2,995.5 L1236.9,996.7 L1239.6,997.9 L1242.3,999.0 L1245.0,1000.1 L1247.8,1001.0 L1250.6,1002.0 L1253.5,1002.8 L1256.3,1003.6 L1259.2,1004.3 L1262.1,1005.0 L1265.0,1005.7 L1267.9,1006.2 L1270.9,1006.8 L1273.8,1007.3 L1276.8,1007.7 L1279.8,1008.1 L1282.8,1008.5 L1285.9,1008.9 L1288.9,1009.2 L1291.9,1009.5 L1295.0,1009.8 L1298.0,1010.0 L1301.1,1010.3 L1304.2,1010.5 L1307.2,1010.8 L1310.3,1011.0 L1313.4,1011.2 L1316.4,1011.5 L1319.5,1011.7 L1322.6,1011.9 L1325.7,1012.2 L1328.7,1012.5 L1331.8,1012.8 L1334.8,1013.1 L1337.9,1013.4 L1340.9,1013.8 L1343.9,1014.1 L1346.9,1014.6 L1349.9,1015.0 L1352.9,1015.5 L1355.9,1016.1 L1358.8,1016.7 L1361.8,1017.3 L1364.7,1018.0 L1367.6,1018.7 L1370.5,1019.5 L1373.3,1020.4 L1376.2,1021.2 L1379.0,1022.2 L1381.8,1023.1 L1384.6,1024.1 L1387.4,1025.2 L1390.2,1026.3 L1392.9,1027.4 L1395.7,1028.6 L1398.4,1029.8 L1401.1,1031.1 L1403.8,1032.4 L1406.4,1033.7 L1409.1,1035.0 L1411.7,1036.4 L1414.3,1037.8 L1416.9,1039.3 L1419.5,1040.8 L1422.1,1042.3 L1424.6,1043.8 L1427.2,1045.3 L1429.7,1046.9 L1432.2,1048.5 L1434.7,1050.1 L1437.2,1051.8 L1439.7,1053.5 L1442.1,1055.1 L1444.5,1056.8 L1447.0,1058.6 L1449.4,1060.3 L1451.8,1062.1 L1454.1,1063.9 L1456.5,1065.7 L1458.9,1067.5 L1461.2,1069.4 L1463.5,1071.3 L1465.8,1073.1 L1468.1,1075.1 L1470.4,1077.0 L1472.6,1079.0 L1474.9,1080.9 L1477.1,1082.9 L1479.3,1084.9 L1481.5,1087.0 L1483.7,1089.0 L1485.8,1091.1 L1488.0,1093.2 L1490.1,1095.3 L1492.3,1097.4 L1494.4,1099.6 L1496.5,1101.8 L1498.5,1104.0 L1500.6,1106.2 L1502.7,1108.4 L1504.7,1110.7 L1506.7,1112.9 L1508.7,1115.2 L1510.7,1117.5 L1512.7,1119.8 L1514.6,1122.2 L1516.6,1124.6 L1518.5,1126.9 L1520.4,1129.3 L1522.4,1131.7 L1524.3,1134.1 L1526.2,1136.6 L1528.0,1139.0 L1529.9,1141.4 L1531.8,1143.9 L1533.7,1146.3 L1535.5,1148.8 L1537.4,1151.3 L1539.2,1153.7 L1541.1,1156.2 L1542.9,1158.6 L1544.8,1161.1 L1546.7,1163.6 L1548.5,1166.0 L1550.4,1168.4 L1552.2,1170.9 L1554.1,1173.3 L1556.0,1175.7 L1557.8,1178.1 L1559.7,1180.5 L1561.6,1182.9 L1563.5,1185.3 L1565.4,1187.6 L1567.3,1190.0 L1569.3,1192.3 L1571.2,1194.6 L1573.2,1196.8 L1575.1,1199.1 L1577.1,1201.3 L1579.1,1203.5 L1581.1,1205.7 L1583.2,1207.8 L1585.2,1209.9 L1587.3,1212.0 L1589.4,1214.1 L1591.5,1216.1 L1593.6,1218.1 L1595.8,1220.0 L1597.9,1221.9 L1600.1,1223.8 L1602.4,1225.7 L1604.6,1227.5 L1606.9,1229.2 L1609.2,1230.9 L1611.5,1232.6 L1613.9,1234.2 L1616.3,1235.8 L1618.7,1237.3 L1621.1,1238.8 L1623.6,1240.3 L1626.1,1241.7 L1628.6,1243.1 L1631.2,1244.4 L1633.8,1245.7 L1636.4,1246.9 L1639.0,1248.1 L1641.6,1249.3 L1644.3,1250.4 L1647.0,1251.5 L1649.7,1252.6 L1652.4,1253.6 L1655.2,1254.6 L1657.9,1255.6 L1660.7,1256.5 L1663.5,1257.4 L1666.4,1258.3 L1669.2,1259.1 L1672.1,1260.0 L1674.9,1260.7 L1677.8,1261.5 L1680.7,1262.2 L1683.7,1262.9 L1686.6,1263.6 L1689.5,1264.2 L1692.5,1264.9 L1695.5,1265.5 L1698.5,1266.0 L1701.5,1266.6 L1704.5,1267.1 L1707.5,1267.6 L1710.5,1268.1 L1713.5,1268.6 L1716.6,1269.1 L1719.6,1269.5 L1722.7,1269.9 L1725.7,1270.3 L1728.8,1270.7 L1731.9,1271.1 L1735.0,1271.5 L1738.0,1271.8 L1741.1,1272.1 L1744.2,1272.5 L1747.3,1272.8 L1750.4,1273.1 L1753.5,1273.4 L1756.6,1273.6 L1759.7,1273.9 L1762.8,1274.2 L1765.9,1274.4 L1768.9,1274.7 L1772.0,1274.9 L1775.1,1275.2 L1778.2,1275.4 L1781.3,1275.7 L1784.3,1275.9 L1787.4,1276.1 L1790.5,1276.3 L1793.5,1276.6 L1796.6,1276.8 L1799.6,1277.0 L1802.7,1277.3 L1805.7,1277.5 L1808.7,1277.7 L1811.8,1277.9 L1814.8,1278.1 L1817.8,1278.4 L1820.8,1278.6 L1823.9,1278.8 L1826.9,1279.0 L1829.9,1279.2 L1832.9,1279.5 L1835.9,1279.7 L1838.9,1279.9 L1841.9,1280.1 L1844.8,1280.4 L1847.8,1280.6 L1850.8,1280.8 L1853.8,1281.0 L1856.8,1281.3 L1859.7,1281.5 L1862.7,1281.7 L1865.7,1282.0 L1868.6,1282.2 L1871.6,1282.4 L1874.6,1282.7 L1877.5,1282.9 L1880.5,1283.2 L1883.4,1283.4 L1886.4,1283.7 L1889.3,1283.9 L1892.3,1284.2 L1895.2,1284.5 L1898.2,1284.7 L1901.1,1285.0 L1904.1,1285.3 L1907.0,1285.6 L1910.0,1285.8 L1912.9,1286.1 L1915.9,1286.4 L1918.8,1286.7 L1921.7,1287.0 L1924.7,1287.3 L1927.6,1287.6 L1930.6,1287.9 L1933.5,1288.3 L1936.4,1288.6 L1939.4,1288.9 L1942.3,1289.3 L1945.2,1289.6 L1948.2,1289.9 L1951.1,1290.3 L1954.1,1290.7 L1957.0,1291.0 L1959.9,1291.4 L1962.9,1291.8 L1965.8,1292.2 L1968.8,1292.6 L1971.7,1293.0 L1974.7,1293.4 L1977.6,1293.8 L1980.6,1294.2 L1983.5,1294.7 L1986.5,1295.1 L1989.4,1295.5 L1992.4,1296.0 L1995.4,1296.5 L1998.3,1296.9 L2001.3,1297.4 L2004.2,1297.9 L2007.2,1298.4 L2010.2,1298.9 L2013.1,1299.4 L2016.1,1299.9 L2019.1,1300.4 L2022.1,1300.9 L2025.0,1301.5 L2028.0,1302.0 L2031.0,1302.5 L2034.0,1303.1 L2036.9,1303.6 L2039.9,1304.1 L2042.9,1304.7 L2045.9,1305.2 L2048.8,1305.8 L2051.8,1306.3 L2054.8,1306.9 L2057.8,1307.5 L2060.8,1308.0 L2063.7,1308.6 L2066.7,1309.1 L2069.7,1309.7 L2072.7,1310.3 L2075.7,1310.8 L2078.7,1311.4 L2081.6,1311.9 L2084.6,1312.5 L2087.6,1313.0 L2090.6,1313.6 L2093.6,1314.1 L2096.5,1314.7 L2099.5,1315.2 L2102.5,1315.8 L2105.5,1316.3 L2108.4,1316.9 L2111.4,1317.4 L2114.4,1317.9 L2117.3,1318.4 L2120.3,1319.0 L2123.3,1319.5 L2126.3,1320.0 L2129.2,1320.5 L2132.2,1321.0 L2135.1,1321.5 L2138.1,1321.9 L2141.1,1322.4 L2144.0,1322.9 L2147.0,1323.3 L2149.9,1323.8 L2152.9,1324.2 L2155.8,1324.7 L2158.8,1325.1 L2161.7,1325.5 L2164.7,1326.0 L2167.6,1326.4 L2170.6,1326.8 L2173.5,1327.2 L2176.5,1327.6 L2179.4,1328.0 L2182.4,1328.4 L2185.4,1328.8 L2188.3,1329.2 L2191.3,1329.5 L2194.2,1329.9 L2197.2,1330.3 L2200.1,1330.6 L2203.1,1331.0 L2206.1,1331.4 L2209.0,1331.7 L2212.0,1332.1 L2215.0,1332.4 L2217.9,1332.8 L2220.9,1333.1 L2223.9,1333.4 L2226.9,1333.8 L2229.9,1334.1 L2232.8,1334.4 L2235.8,1334.8 L2238.8,1335.1 L2241.8,1335.4 L2244.8,1335.8 L2247.8,1336.1 L2250.9,1336.4 L2253.9,1336.7 L2256.9,1337.0 L2259.9,1337.4 L2263.0,1337.7 L2266.0,1338.0"/>
<path id="cq" d="M1189.0,946.0 L1190.8,948.5 L1192.7,951.1 L1194.7,953.5 L1196.6,955.9 L1198.6,958.3 L1200.7,960.6 L1202.7,962.9 L1204.9,965.1 L1207.0,967.2 L1209.2,969.3 L1211.5,971.3 L1213.7,973.3 L1216.0,975.2 L1218.4,977.0 L1220.8,978.7 L1223.2,980.4 L1225.7,982.0 L1228.2,983.5 L1230.7,984.9 L1233.3,986.2 L1235.9,987.5 L1238.6,988.7 L1241.3,989.9 L1244.0,990.9 L1246.7,992.0 L1249.5,992.9 L1252.3,993.8 L1255.1,994.6 L1257.9,995.4 L1260.8,996.1 L1263.6,996.8 L1266.5,997.4 L1269.5,998.0 L1272.4,998.6 L1275.3,999.1 L1278.3,999.6 L1281.3,1000.0 L1284.3,1000.4 L1287.3,1000.8 L1290.3,1001.1 L1293.3,1001.5 L1296.3,1001.8 L1299.3,1002.1 L1302.4,1002.3 L1305.4,1002.6 L1308.4,1002.8 L1311.5,1003.0 L1314.5,1003.3 L1317.6,1003.5 L1320.7,1003.7 L1323.7,1003.9 L1326.8,1004.1 L1329.8,1004.3 L1332.9,1004.5 L1335.9,1004.8 L1339.0,1005.0 L1342.0,1005.3 L1345.0,1005.5 L1348.0,1005.8 L1351.1,1006.1 L1354.1,1006.4 L1357.1,1006.8 L1360.1,1007.2 L1363.1,1007.6 L1366.0,1008.0 L1369.0,1008.5 L1371.9,1009.0 L1374.9,1009.5 L1377.8,1010.1 L1380.7,1010.7 L1383.6,1011.4 L1386.4,1012.1 L1389.3,1012.9 L1392.1,1013.7 L1394.9,1014.6 L1397.7,1015.5 L1400.4,1016.5 L1403.2,1017.5 L1405.9,1018.7 L1408.5,1019.8 L1411.2,1021.1 L1413.8,1022.4 L1416.4,1023.8 L1418.9,1025.2 L1421.5,1026.7 L1424.0,1028.2 L1426.5,1029.8 L1428.9,1031.4 L1431.4,1033.0 L1433.8,1034.7 L1436.2,1036.5 L1438.6,1038.2 L1441.0,1040.0 L1443.4,1041.8 L1445.7,1043.6 L1448.1,1045.4 L1450.4,1047.3 L1452.7,1049.1 L1455.0,1051.0 L1457.3,1053.0 L1459.6,1054.9 L1461.9,1056.8 L1464.1,1058.8 L1466.4,1060.8 L1468.6,1062.8 L1470.9,1064.8 L1473.1,1066.9 L1475.3,1068.9 L1477.5,1071.0 L1479.7,1073.1 L1481.8,1075.2 L1484.0,1077.3 L1486.1,1079.4 L1488.3,1081.5 L1490.4,1083.7 L1492.5,1085.8 L1494.6,1088.0 L1496.7,1090.2 L1498.8,1092.4 L1500.9,1094.6 L1503.0,1096.8 L1505.0,1099.1 L1507.1,1101.3 L1509.1,1103.6 L1511.2,1105.8 L1513.2,1108.1 L1515.2,1110.3 L1517.2,1112.6 L1519.2,1114.9 L1521.2,1117.2 L1523.2,1119.5 L1525.2,1121.8 L1527.2,1124.1 L1529.2,1126.4 L1531.1,1128.7 L1533.1,1131.0 L1535.1,1133.3 L1537.0,1135.6 L1539.0,1137.9 L1541.0,1140.2 L1542.9,1142.5 L1544.9,1144.8 L1546.8,1147.1 L1548.8,1149.4 L1550.8,1151.7 L1552.8,1154.0 L1554.7,1156.3 L1556.7,1158.6 L1558.7,1160.8 L1560.7,1163.1 L1562.7,1165.4 L1564.7,1167.6 L1566.7,1169.8 L1568.7,1172.1 L1570.8,1174.3 L1572.8,1176.5 L1574.9,1178.7 L1576.9,1180.8 L1579.0,1183.0 L1581.1,1185.2 L1583.2,1187.3 L1585.3,1189.4 L1587.4,1191.5 L1589.6,1193.6 L1591.7,1195.7 L1593.9,1197.7 L1596.1,1199.7 L1598.3,1201.7 L1600.5,1203.7 L1602.7,1205.7 L1605.0,1207.7 L1607.2,1209.6 L1609.5,1211.5 L1611.9,1213.4 L1614.2,1215.2 L1616.6,1217.1 L1618.9,1218.9 L1621.3,1220.7 L1623.7,1222.4 L1626.2,1224.1 L1628.6,1225.8 L1631.1,1227.5 L1633.6,1229.2 L1636.1,1230.8 L1638.6,1232.4 L1641.2,1233.9 L1643.7,1235.5 L1646.3,1237.0 L1648.9,1238.5 L1651.5,1239.9 L1654.2,1241.3 L1656.8,1242.7 L1659.5,1244.0 L1662.2,1245.4 L1664.9,1246.6 L1667.6,1247.9 L1670.3,1249.1 L1673.1,1250.3 L1675.8,1251.4 L1678.6,1252.5 L1681.4,1253.6 L1684.2,1254.6 L1687.0,1255.6 L1689.8,1256.6 L1692.7,1257.5 L1695.5,1258.4 L1698.4,1259.2 L1701.3,1260.0 L1704.2,1260.8 L1707.1,1261.5 L1710.0,1262.2 L1712.9,1262.9 L1715.9,1263.5 L1718.8,1264.1 L1721.8,1264.7 L1724.7,1265.2 L1727.7,1265.7 L1730.7,1266.2 L1733.7,1266.7 L1736.7,1267.1 L1739.7,1267.5 L1742.7,1267.9 L1745.7,1268.3 L1748.7,1268.7 L1751.7,1269.0 L1754.7,1269.4 L1757.7,1269.7 L1760.8,1270.0 L1763.8,1270.3 L1766.8,1270.6 L1769.9,1270.9 L1772.9,1271.2 L1775.9,1271.5 L1778.9,1271.8 L1782.0,1272.1 L1785.0,1272.4 L1788.0,1272.7 L1791.0,1272.9 L1794.0,1273.2 L1797.0,1273.5 L1800.1,1273.8 L1803.1,1274.1 L1806.1,1274.4 L1809.1,1274.7 L1812.1,1275.0 L1815.1,1275.4 L1818.1,1275.7 L1821.1,1276.0 L1824.1,1276.3 L1827.0,1276.6 L1830.0,1276.9 L1833.0,1277.2 L1836.0,1277.5 L1839.0,1277.9 L1842.0,1278.2 L1845.0,1278.5 L1847.9,1278.8 L1850.9,1279.1 L1853.9,1279.5 L1856.9,1279.8 L1859.9,1280.1 L1862.8,1280.4 L1865.8,1280.7 L1868.8,1281.1 L1871.8,1281.4 L1874.7,1281.7 L1877.7,1282.0 L1880.7,1282.3 L1883.7,1282.6 L1886.6,1283.0 L1889.6,1283.3 L1892.6,1283.6 L1895.6,1283.9 L1898.5,1284.2 L1901.5,1284.5 L1904.5,1284.8 L1907.5,1285.1 L1910.4,1285.4 L1913.4,1285.7 L1916.4,1286.0 L1919.4,1286.3 L1922.3,1286.6 L1925.3,1286.9 L1928.3,1287.2 L1931.3,1287.5 L1934.3,1287.8 L1937.3,1288.1 L1940.2,1288.4 L1943.2,1288.6 L1946.2,1288.9 L1949.2,1289.2 L1952.2,1289.4 L1955.2,1289.7 L1958.2,1290.0 L1961.2,1290.2 L1964.2,1290.5 L1967.2,1290.7 L1970.2,1291.0 L1973.2,1291.2 L1976.2,1291.5 L1979.2,1291.7 L1982.2,1291.9 L1985.2,1292.1 L1988.2,1292.4 L1991.2,1292.6 L1994.2,1292.8 L1997.3,1293.0 L2000.3,1293.2 L2003.3,1293.4 L2006.3,1293.6 L2009.4,1293.8 L2012.4,1294.1 L2015.4,1294.3 L2018.4,1294.5 L2021.4,1294.8 L2024.4,1295.1 L2027.5,1295.3 L2030.5,1295.6 L2033.5,1296.0 L2036.5,1296.3 L2039.5,1296.7 L2042.5,1297.0 L2045.4,1297.4 L2048.4,1297.9 L2051.4,1298.3 L2054.3,1298.8 L2057.3,1299.4 L2060.2,1299.9 L2063.2,1300.5 L2066.1,1301.1 L2069.0,1301.8 L2071.9,1302.5 L2074.9,1303.2 L2077.8,1303.9 L2080.7,1304.6 L2083.6,1305.4 L2086.5,1306.1 L2089.3,1306.9 L2092.2,1307.7 L2095.1,1308.5 L2098.0,1309.4 L2100.9,1310.2 L2103.7,1311.0 L2106.6,1311.9 L2109.5,1312.7 L2112.4,1313.5 L2115.3,1314.4 L2118.1,1315.2 L2121.0,1316.0 L2123.9,1316.8 L2126.8,1317.6 L2129.7,1318.4 L2132.6,1319.2 L2135.5,1319.9 L2138.4,1320.7 L2141.3,1321.4 L2144.2,1322.1 L2147.1,1322.8 L2150.0,1323.4 L2152.9,1324.1 L2155.9,1324.7 L2158.8,1325.3 L2161.7,1325.9 L2164.7,1326.5 L2167.6,1327.0 L2170.6,1327.6 L2173.5,1328.1 L2176.5,1328.6 L2179.4,1329.1 L2182.4,1329.6 L2185.4,1330.1 L2188.3,1330.5 L2191.3,1331.0 L2194.3,1331.4 L2197.3,1331.9 L2200.2,1332.3 L2203.2,1332.7 L2206.2,1333.1 L2209.2,1333.5 L2212.2,1333.9 L2215.2,1334.2 L2218.1,1334.6 L2221.1,1335.0 L2224.1,1335.3 L2227.1,1335.7 L2230.1,1336.0 L2233.1,1336.4 L2236.1,1336.7 L2239.1,1337.0 L2242.1,1337.4 L2245.1,1337.7 L2248.1,1338.0 L2251.0,1338.4 L2254.0,1338.7 L2257.0,1339.0 L2260.0,1339.3 L2263.0,1339.7 L2266.0,1340.0"/>
<path id="cg" d="M275.0,160.5 L440.0,161.0 L448.0,165.0 L460.0,170.0 L475.0,171.0 L690.0,171.5 L690.0,171.5 L693.2,171.2 L696.5,171.0 L699.6,170.9 L702.8,170.7 L705.9,170.7 L709.0,170.6 L712.1,170.6 L715.1,170.7 L718.2,170.8 L721.2,170.9 L724.2,171.1 L727.1,171.3 L730.1,171.5 L733.0,171.7 L735.9,172.0 L738.8,172.4 L741.7,172.7 L744.6,173.1 L747.5,173.5 L750.4,173.9 L753.2,174.4 L756.1,174.8 L758.9,175.3 L761.7,175.9 L764.6,176.4 L767.4,176.9 L770.2,177.5 L773.1,178.1 L775.9,178.7 L778.8,179.3 L781.6,179.9 L784.5,180.5 L787.3,181.2 L790.2,181.8 L793.1,182.4 L796.0,183.1 L798.9,183.8 L801.8,184.4 L804.7,185.1 L807.6,185.7 L810.6,186.4 L813.6,187.0 L816.6,187.7 L819.6,188.3 L822.6,189.0 L825.7,189.6 L828.7,190.3 L831.8,190.9 L834.9,191.6 L838.0,192.2 L841.0,192.9 L844.1,193.6 L847.2,194.3 L850.3,195.0 L853.4,195.8 L856.5,196.5 L859.5,197.3 L862.6,198.1 L865.6,198.9 L868.6,199.8 L871.6,200.7 L874.6,201.6 L877.5,202.5 L880.5,203.5 L883.4,204.6 L886.2,205.6 L889.1,206.7 L891.9,207.9 L894.7,209.1 L897.4,210.4 L900.1,211.6 L902.8,213.0 L905.4,214.4 L908.0,215.8 L910.6,217.2 L913.1,218.7 L915.6,220.3 L918.1,221.9 L920.5,223.5 L922.9,225.2 L925.3,226.9 L927.6,228.6 L929.9,230.4 L932.2,232.2 L934.5,234.0 L936.7,235.9 L938.9,237.8 L941.0,239.8 L943.1,241.8 L945.3,243.8 L947.3,245.8 L949.4,247.9 L951.4,250.0 L953.4,252.2 L955.4,254.3 L957.3,256.5 L959.2,258.8 L961.1,261.0 L963.0,263.3 L964.8,265.6 L966.6,267.9 L968.4,270.3 L970.2,272.6 L971.9,275.0 L973.6,277.5 L975.3,279.9 L977.0,282.4 L978.7,284.9 L980.3,287.4 L981.9,289.9 L983.5,292.4 L985.1,295.0 L986.6,297.6 L988.1,300.2 L989.7,302.8 L991.2,305.4 L992.6,308.1 L994.1,310.7 L995.5,313.4 L996.9,316.1 L998.3,318.8 L999.7,321.5 L1001.1,324.2 L1002.4,326.9 L1003.8,329.7 L1005.1,332.4 L1006.4,335.2 L1007.7,338.0 L1009.0,340.7 L1010.2,343.5 L1011.5,346.3 L1012.7,349.1 L1013.9,351.9 L1015.2,354.7 L1016.4,357.5 L1017.5,360.3 L1018.7,363.1 L1019.9,365.9 L1021.0,368.7 L1022.2,371.5 L1023.3,374.3 L1024.4,377.1 L1025.5,379.9 L1026.6,382.8 L1027.7,385.6 L1028.8,388.4 L1029.9,391.2 L1030.9,394.1 L1032.0,396.9 L1033.0,399.7 L1034.0,402.5 L1035.0,405.4 L1036.0,408.2 L1037.0,411.1 L1038.0,413.9 L1039.0,416.7 L1040.0,419.6 L1040.9,422.4 L1041.9,425.3 L1042.8,428.1 L1043.8,430.9 L1044.7,433.8 L1045.6,436.6 L1046.5,439.5 L1047.4,442.4 L1048.3,445.2 L1049.2,448.1 L1050.1,450.9 L1051.0,453.8 L1051.8,456.6 L1052.7,459.5 L1053.5,462.4 L1054.4,465.2 L1055.2,468.1 L1056.0,471.0 L1056.9,473.8 L1057.7,476.7 L1058.5,479.6 L1059.3,482.5 L1060.1,485.3 L1060.9,488.2 L1061.7,491.1 L1062.5,494.0 L1063.2,496.8 L1064.0,499.7 L1064.8,502.6 L1065.5,505.5 L1066.3,508.4 L1067.0,511.3 L1067.8,514.1 L1068.5,517.0 L1069.2,519.9 L1070.0,522.8 L1070.7,525.7 L1071.4,528.6 L1072.1,531.5 L1072.8,534.4 L1073.5,537.3 L1074.3,540.2 L1075.0,543.1 L1075.7,546.0 L1076.3,548.9 L1077.0,551.8 L1077.7,554.7 L1078.4,557.6 L1079.1,560.5 L1079.8,563.4 L1080.4,566.3 L1081.1,569.2 L1081.8,572.1 L1082.5,575.0 L1083.1,577.9 L1083.8,580.8 L1084.5,583.8 L1085.1,586.7 L1085.8,589.6 L1086.4,592.5 L1087.1,595.4 L1087.8,598.3 L1088.4,601.2 L1089.1,604.2 L1089.7,607.1 L1090.4,610.0 L1091.0,612.9 L1091.7,615.8 L1092.3,618.8 L1093.0,621.7 L1093.6,624.6 L1094.3,627.5 L1094.9,630.4 L1095.6,633.4 L1096.2,636.3 L1096.9,639.2 L1097.5,642.1 L1098.2,645.1 L1098.9,648.0 L1099.5,650.9 L1100.2,653.8 L1100.8,656.8 L1101.5,659.7 L1102.1,662.6 L1102.8,665.6 L1103.5,668.5 L1104.1,671.4 L1104.8,674.4 L1105.5,677.3 L1106.1,680.2 L1106.8,683.2 L1107.5,686.1 L1108.2,689.0 L1108.9,692.0 L1109.5,694.9 L1110.2,697.8 L1110.9,700.8 L1111.6,703.7 L1112.3,706.6 L1113.0,709.6 L1113.7,712.5 L1114.4,715.4 L1115.2,718.4 L1115.9,721.3 L1116.6,724.2 L1117.3,727.2 L1118.1,730.1 L1118.8,733.0 L1119.5,736.0 L1120.3,738.9 L1121.0,741.9 L1121.8,744.8 L1122.5,747.7 L1123.3,750.7 L1124.1,753.6 L1124.9,756.6 L1125.6,759.5 L1126.4,762.4 L1127.2,765.4 L1128.0,768.3 L1128.8,771.2 L1129.6,774.2 L1130.5,777.1 L1131.3,780.1 L1132.1,783.0 L1132.9,785.9 L1133.8,788.9 L1134.6,791.8 L1135.5,794.7 L1136.4,797.7 L1137.2,800.6 L1138.1,803.6 L1139.0,806.5 L1139.9,809.4 L1140.8,812.4 L1141.7,815.3 L1142.7,818.2 L1143.6,821.1 L1144.6,824.1 L1145.5,827.0 L1146.5,829.9 L1147.5,832.8 L1148.5,835.7 L1149.5,838.6 L1150.5,841.5 L1151.5,844.3 L1152.6,847.2 L1153.7,850.1 L1154.8,852.9 L1155.9,855.8 L1157.0,858.6 L1158.1,861.4 L1159.3,864.2 L1160.4,867.0 L1161.6,869.8 L1162.9,872.6 L1164.1,875.3 L1165.3,878.1 L1166.6,880.8 L1167.9,883.5 L1169.2,886.2 L1170.6,888.9 L1171.9,891.5 L1173.3,894.2 L1174.7,896.8 L1176.1,899.4 L1177.6,902.0 L1179.1,904.6 L1180.6,907.1 L1182.1,909.7 L1183.7,912.2 L1185.3,914.7 L1186.9,917.1 L1188.5,919.6 L1190.2,922.0 L1191.9,924.4 L1193.6,926.8 L1195.4,929.1 L1197.2,931.4 L1199.0,933.7 L1200.9,936.0 L1202.8,938.2 L1204.7,940.4 L1206.6,942.6 L1208.6,944.8 L1210.7,946.9 L1212.7,949.0 L1214.8,951.1 L1216.9,953.1 L1219.1,955.1 L1221.3,957.1 L1223.5,959.0 L1225.8,960.9 L1228.1,962.7 L1230.4,964.5 L1232.8,966.2 L1235.2,967.9 L1237.6,969.6 L1240.1,971.1 L1242.6,972.6 L1245.1,974.1 L1247.7,975.5 L1250.3,976.8 L1252.9,978.1 L1255.5,979.3 L1258.2,980.4 L1261.0,981.4 L1263.7,982.4 L1266.5,983.3 L1269.3,984.2 L1272.2,985.0 L1275.0,985.8 L1277.9,986.5 L1280.8,987.1 L1283.8,987.7 L1286.7,988.3 L1289.7,988.8 L1292.7,989.3 L1295.7,989.7 L1298.7,990.1 L1301.7,990.5 L1304.7,990.8 L1307.8,991.2 L1310.8,991.5 L1313.9,991.8 L1317.0,992.0 L1320.1,992.3 L1323.2,992.6 L1326.3,992.8 L1329.3,993.0 L1332.4,993.3 L1335.5,993.5 L1338.6,993.7 L1341.7,994.0 L1344.8,994.3 L1347.9,994.5 L1350.9,994.8 L1354.0,995.1 L1357.1,995.4 L1360.1,995.8 L1363.1,996.1 L1366.1,996.5 L1369.1,997.0 L1372.1,997.4 L1375.1,997.9 L1378.1,998.5 L1381.0,999.1 L1383.9,999.7 L1386.8,1000.4 L1389.7,1001.1 L1392.5,1001.9 L1395.3,1002.7 L1398.1,1003.6 L1400.9,1004.6 L1403.6,1005.6 L1406.3,1006.7 L1409.0,1007.9 L1411.6,1009.1 L1414.2,1010.5 L1416.8,1011.9 L1419.3,1013.3 L1421.8,1014.9 L1424.2,1016.5 L1426.6,1018.3 L1429.0,1020.1 L1431.3,1022.0 L1433.6,1024.0 L1435.9,1026.0 L1438.2,1028.1 L1440.4,1030.3 L1442.6,1032.4 L1444.7,1034.6 L1446.9,1036.9 L1449.1,1039.1 L1451.2,1041.4 L1453.3,1043.7 L1455.5,1045.9 L1457.6,1048.2 L1459.7,1050.4 L1461.9,1052.6 L1464.0,1054.8 L1466.1,1057.0 L1468.2,1059.1 L1470.3,1061.3 L1472.4,1063.5 L1474.5,1065.7 L1476.5,1067.9 L1478.5,1070.1 L1480.5,1072.3 L1482.4,1074.5 L1484.3,1076.8 L1486.2,1079.1 L1488.1,1081.4 L1489.9,1083.8 L1491.7,1086.1 L1493.5,1088.5 L1495.2,1090.8 L1496.9,1093.2 L1498.6,1095.7 L1500.3,1098.1 L1502.0,1100.5 L1503.6,1103.0 L1505.2,1105.5 L1506.9,1107.9 L1508.5,1110.4 L1510.0,1112.9 L1511.6,1115.5 L1513.2,1118.0 L1514.7,1120.5 L1516.3,1123.1 L1517.8,1125.6 L1519.3,1128.2 L1520.8,1130.8 L1522.3,1133.3 L1523.9,1135.9 L1525.4,1138.5 L1526.9,1141.1 L1528.4,1143.7 L1529.9,1146.3 L1531.4,1148.9 L1532.9,1151.5 L1534.4,1154.2 L1536.0,1156.8 L1537.5,1159.4 L1539.0,1162.0 L1540.6,1164.6 L1542.1,1167.2 L1543.7,1169.9 L1545.3,1172.5 L1546.9,1175.1 L1548.5,1177.7 L1550.1,1180.3 L1551.7,1182.9 L1553.4,1185.4 L1555.1,1188.0 L1556.7,1190.5 L1558.4,1193.1 L1560.1,1195.6 L1561.9,1198.1 L1563.6,1200.6 L1565.4,1203.1 L1567.2,1205.5 L1569.0,1208.0 L1570.8,1210.4 L1572.7,1212.7 L1574.6,1215.1 L1576.5,1217.4 L1578.4,1219.8 L1580.4,1222.0 L1582.4,1224.3 L1584.4,1226.5 L1586.4,1228.7 L1588.5,1230.8 L1590.5,1233.0 L1592.7,1235.0 L1594.8,1237.1 L1597.0,1239.1 L1599.2,1241.1 L1601.5,1243.0 L1603.7,1244.9 L1606.0,1246.7 L1608.4,1248.5 L1610.8,1250.3 L1613.2,1252.0 L1615.6,1253.6 L1618.1,1255.3 L1620.6,1256.8 L1623.2,1258.4 L1625.7,1259.8 L1628.3,1261.3 L1630.9,1262.7 L1633.6,1264.1 L1636.3,1265.4 L1639.0,1266.7 L1641.7,1267.9 L1644.5,1269.1 L1647.2,1270.3 L1650.0,1271.5 L1652.8,1272.6 L1655.7,1273.6 L1658.5,1274.7 L1661.4,1275.7 L1664.2,1276.7 L1667.1,1277.6 L1670.0,1278.5 L1672.9,1279.4 L1675.9,1280.3 L1678.8,1281.1 L1681.7,1281.9 L1684.7,1282.7 L1687.6,1283.5 L1690.6,1284.2 L1693.6,1284.9 L1696.5,1285.6 L1699.5,1286.2 L1702.5,1286.9 L1705.5,1287.5 L1708.5,1288.1 L1711.4,1288.7 L1714.4,1289.2 L1717.4,1289.8 L1720.4,1290.3 L1723.3,1290.8 L1726.3,1291.3 L1729.3,1291.8 L1732.3,1292.2 L1735.3,1292.6 L1738.2,1293.1 L1741.2,1293.5 L1744.2,1293.8 L1747.2,1294.2 L1750.2,1294.6 L1753.2,1294.9 L1756.2,1295.2 L1759.1,1295.5 L1762.1,1295.8 L1765.1,1296.1 L1768.1,1296.4 L1771.1,1296.7 L1774.1,1296.9 L1777.1,1297.1 L1780.0,1297.4 L1783.0,1297.6 L1786.0,1297.8 L1789.0,1298.0 L1792.0,1298.1 L1795.0,1298.3 L1798.0,1298.5 L1801.0,1298.6 L1804.0,1298.8 L1807.0,1298.9 L1810.0,1299.0 L1813.0,1299.2 L1816.0,1299.3 L1818.9,1299.4 L1821.9,1299.5 L1824.9,1299.6 L1827.9,1299.7 L1830.9,1299.8 L1833.9,1299.8 L1836.9,1299.9 L1839.9,1300.0 L1842.9,1300.0 L1845.9,1300.1 L1848.9,1300.2 L1851.9,1300.2 L1854.9,1300.3 L1857.9,1300.3 L1860.9,1300.4 L1863.9,1300.4 L1866.9,1300.5 L1869.9,1300.5 L1872.9,1300.6 L1875.9,1300.6 L1878.9,1300.7 L1881.9,1300.7 L1884.9,1300.8 L1887.9,1300.8 L1890.9,1300.9 L1893.9,1300.9 L1896.9,1300.9 L1899.9,1301.0 L1902.9,1301.0 L1905.9,1301.1 L1909.0,1301.1 L1912.0,1301.2 L1915.0,1301.2 L1918.0,1301.2 L1921.0,1301.3 L1924.0,1301.3 L1927.0,1301.4 L1930.0,1301.4 L1933.0,1301.5 L1936.0,1301.5 L1939.0,1301.5 L1942.0,1301.6 L1945.0,1301.6 L1948.0,1301.7 L1951.0,1301.7 L1954.1,1301.8 L1957.1,1301.8 L1960.1,1301.9 L1963.1,1301.9 L1966.1,1302.0 L1969.1,1302.0 L1972.1,1302.1 L1975.1,1302.1 L1978.1,1302.2 L1981.1,1302.2 L1984.1,1302.3 L1987.1,1302.3 L1990.2,1302.4 L1993.2,1302.4 L1996.2,1302.5 L1999.2,1302.6 L2002.2,1302.6 L2005.2,1302.7 L2008.2,1302.7 L2011.2,1302.8 L2014.2,1302.9 L2017.2,1302.9 L2020.2,1303.0 L2023.2,1303.1 L2026.3,1303.2 L2029.3,1303.2 L2032.3,1303.3 L2035.3,1303.4 L2038.3,1303.5 L2041.3,1303.6 L2044.3,1303.6 L2047.3,1303.7 L2050.3,1303.8 L2053.3,1303.9 L2056.3,1304.0 L2059.3,1304.1 L2062.3,1304.2 L2065.4,1304.3 L2068.4,1304.4 L2071.4,1304.5 L2074.4,1304.6 L2077.4,1304.7 L2080.4,1304.9 L2083.4,1305.0 L2086.4,1305.1 L2089.4,1305.2 L2092.4,1305.3 L2095.4,1305.5 L2098.4,1305.6 L2101.4,1305.7 L2104.4,1305.9 L2107.4,1306.0 L2110.4,1306.1 L2113.4,1306.3 L2116.4,1306.4 L2119.4,1306.6 L2122.4,1306.7 L2125.4,1306.9 L2128.4,1307.1 L2131.4,1307.2 L2134.4,1307.4 L2137.4,1307.6 L2140.4,1307.7 L2143.4,1307.9 L2146.4,1308.1 L2149.4,1308.3 L2152.4,1308.5 L2155.4,1308.7 L2158.4,1308.9 L2161.4,1309.1 L2164.4,1309.3 L2167.4,1309.5 L2170.4,1309.7 L2173.4,1309.9 L2176.4,1310.2 L2179.4,1310.4 L2182.4,1310.6 L2185.4,1310.8 L2188.4,1311.1 L2191.4,1311.3 L2194.4,1311.6 L2197.4,1311.8 L2200.4,1312.1 L2203.3,1312.4 L2206.3,1312.6 L2209.3,1312.9 L2212.3,1313.2 L2215.3,1313.4 L2218.3,1313.7 L2221.3,1314.0 L2224.3,1314.3 L2227.2,1314.6 L2230.2,1314.9 L2233.2,1315.2 L2236.2,1315.5 L2239.2,1315.9 L2242.2,1316.2 L2245.1,1316.5 L2248.1,1316.9 L2251.1,1317.2 L2254.1,1317.6 L2257.1,1317.9 L2260.0,1318.3 L2263.0,1318.6 L2266.0,1319.0"/>
</defs>
<path d="M275,174 L430,174" stroke="#f6cdf6" stroke-width="9" fill="none"/>
<filter id="sq" filterUnits="userSpaceOnUse" x="0" y="0" width="2365" height="1763" color-interpolation-filters="sRGB"><feMorphology operator="dilate" radius="6"/></filter>
<use href="#ck" stroke="#050505" fill="none" stroke-width="2" stroke-linejoin="round" stroke-linecap="round" filter="url(#sq)"/>
<use href="#cp" stroke="#b428d2" fill="none" stroke-width="2" stroke-linejoin="round" stroke-linecap="round" filter="url(#sq)"/>
<use href="#cr" stroke="#c8141e" fill="none" stroke-width="2" stroke-linejoin="round" stroke-linecap="round" filter="url(#sq)"/>
<use href="#cb" stroke="#1a10c0" fill="none" stroke-width="2" stroke-linejoin="round" stroke-linecap="round" filter="url(#sq)"/>
<use href="#cq" stroke="#b428d2" fill="none" stroke-width="2" stroke-linejoin="round" stroke-linecap="round" filter="url(#sq)"/>
<use href="#cg" stroke="#226b22" fill="none" stroke-width="2" stroke-linejoin="round" stroke-linecap="round" filter="url(#sq)"/>
<path d="M479,171.5 L655,172" stroke="#634a1c" stroke-width="15" fill="none"/>
<path d="M668,158.5 L702,158.5" stroke="#6a2a5e" stroke-width="10" fill="none"/>
<path d="M702,158.5 L730,158.5" stroke="#141a6a" stroke-width="10" fill="none"/>
<g fill="#000">
<rect x="265.4" y="28.5" width="11.4" height="1489.0"/>
<rect x="234" y="1506.5" width="2053.5" height="11"/>
<rect x="234" y="28.6" width="37.1" height="10.6"/>
<rect x="234" y="164.7" width="37.1" height="10.6"/>
<rect x="234" y="301.9" width="37.1" height="10.6"/>
<rect x="234" y="427.7" width="37.1" height="10.6"/>
<rect x="234" y="564.2" width="37.1" height="10.6"/>
<rect x="234" y="701.0" width="37.1" height="10.6"/>
<rect x="234" y="837.6" width="37.1" height="10.6"/>
<rect x="234" y="970.8" width="37.1" height="10.6"/>
<rect x="234" y="1104.0" width="37.1" height="10.6"/>
<rect x="234" y="1237.0" width="37.1" height="10.6"/>
<rect x="234" y="1372.6" width="37.1" height="10.6"/>
<rect x="234" y="1506.7" width="37.1" height="10.6"/>
<rect x="252.5" y="95.2" width="18.6" height="10.6"/>
<rect x="252.5" y="232.0" width="18.6" height="10.6"/>
<rect x="252.5" y="367.5" width="18.6" height="10.6"/>
<rect x="252.5" y="493.9" width="18.6" height="10.6"/>
<rect x="252.5" y="630.7" width="18.6" height="10.6"/>
<rect x="252.5" y="767.4" width="18.6" height="10.6"/>
<rect x="252.5" y="904.2" width="18.6" height="10.6"/>
<rect x="252.5" y="1037.4" width="18.6" height="10.6"/>
<rect x="252.5" y="1170.4" width="18.6" height="10.6"/>
<rect x="252.5" y="1303.6" width="18.6" height="10.6"/>
<rect x="252.5" y="1439.2" width="18.6" height="10.6"/>
<rect x="490.4" y="1512.0" width="11.2" height="35.5"/>
<rect x="789.4" y="1512.0" width="11.2" height="35.5"/>
<rect x="1084.9" y="1512.0" width="11.2" height="35.5"/>
<rect x="1387.9" y="1512.0" width="11.2" height="35.5"/>
<rect x="1687.9" y="1512.0" width="11.2" height="35.5"/>
<rect x="1984.4" y="1512.0" width="11.2" height="35.5"/>
<rect x="2275.4" y="1512.0" width="11.2" height="35.5"/>
<rect x="341.9" y="1512.0" width="11.2" height="20.5"/>
<rect x="641.7" y="1512.0" width="11.2" height="20.5"/>
<rect x="941.4" y="1512.0" width="11.2" height="20.5"/>
<rect x="1240.4" y="1512.0" width="11.2" height="20.5"/>
<rect x="1539.9" y="1512.0" width="11.2" height="20.5"/>
<rect x="1838.4" y="1512.0" width="11.2" height="20.5"/>
<rect x="2134.4" y="1512.0" width="11.2" height="20.5"/>
</g>
<g font-family="Liberation Sans, Arial, sans-serif" font-weight="bold" fill="#000">
<text x="76.7" y="65.5" font-size="83" textLength="136.4" lengthAdjust="spacingAndGlyphs">110</text>
<text x="76.9" y="192.9" font-size="83" textLength="135.7" lengthAdjust="spacingAndGlyphs">100</text>
<text x="119.2" y="333.1" font-size="83" textLength="94.4" lengthAdjust="spacingAndGlyphs">90</text>
<text x="120.1" y="459.6" font-size="83" textLength="92.9" lengthAdjust="spacingAndGlyphs">80</text>
<text x="120.7" y="592.1" font-size="83" textLength="92.3" lengthAdjust="spacingAndGlyphs">70</text>
<text x="119.2" y="730.2" font-size="83" textLength="93.8" lengthAdjust="spacingAndGlyphs">60</text>
<text x="121.5" y="868.4" font-size="83" textLength="91.4" lengthAdjust="spacingAndGlyphs">50</text>
<text x="119.8" y="1000.6" font-size="83" textLength="93.2" lengthAdjust="spacingAndGlyphs">40</text>
<text x="121.7" y="1133.7" font-size="83" textLength="91.3" lengthAdjust="spacingAndGlyphs">30</text>
<text x="120.8" y="1262.6" font-size="83" textLength="92.2" lengthAdjust="spacingAndGlyphs">20</text>
<text x="122.7" y="1397.2" font-size="83" textLength="89.5" lengthAdjust="spacingAndGlyphs">10</text>
<text x="164.5" y="1541.6" font-size="83" textLength="48.3" lengthAdjust="spacingAndGlyphs">0</text>
<text x="428.6" y="1630.6" font-size="83" textLength="136.0" lengthAdjust="spacingAndGlyphs">100</text>
<text x="731.6" y="1630.6" font-size="83" textLength="135.6" lengthAdjust="spacingAndGlyphs">200</text>
<text x="1025.8" y="1630.6" font-size="83" textLength="134.3" lengthAdjust="spacingAndGlyphs">300</text>
<text x="1327.3" y="1630.6" font-size="83" textLength="136.5" lengthAdjust="spacingAndGlyphs">400</text>
<text x="1629.3" y="1630.6" font-size="83" textLength="134.1" lengthAdjust="spacingAndGlyphs">500</text>
<text x="1925.8" y="1630.6" font-size="83" textLength="135.1" lengthAdjust="spacingAndGlyphs">600</text>
<text x="2226.1" y="1630.6" font-size="83" textLength="130.2" lengthAdjust="spacingAndGlyphs">700</text>
<text y="1736.8" font-size="83"><tspan x="1085.8" textLength="477.5" lengthAdjust="spacingAndGlyphs">Temperature</tspan><tspan x="1556.5" textLength="152.7" lengthAdjust="spacingAndGlyphs"> (°C)</tspan></text>
<text transform="translate(66.5,1033) rotate(-90)" x="0" y="0" font-size="82" textLength="404" lengthAdjust="spacingAndGlyphs">% (Weight)</text>
<text y="216.6" font-size="83" xml:space="preserve"><tspan x="1504.6" textLength="179.2" lengthAdjust="spacingAndGlyphs">Neat</tspan> <tspan x="1702.4" textLength="143.6" lengthAdjust="spacingAndGlyphs">PVC</tspan> <tspan x="1866.6" textLength="183.9" lengthAdjust="spacingAndGlyphs">resin</tspan></text>
<text y="308.5" font-size="83" xml:space="preserve"><tspan x="1504.6" textLength="179.2" lengthAdjust="spacingAndGlyphs">Neat</tspan> <tspan x="1702.4" textLength="143.6" lengthAdjust="spacingAndGlyphs">PVC</tspan> <tspan x="1866.5" textLength="443.8" lengthAdjust="spacingAndGlyphs">membranes</tspan></text>
<text y="401.8" font-size="83" xml:space="preserve"><tspan x="1505.3" textLength="331.6" lengthAdjust="spacingAndGlyphs">PVC/CNT</tspan>  <tspan x="1879.0" textLength="109.6" lengthAdjust="spacingAndGlyphs">1%</tspan></text>
<text y="493.7" font-size="83" xml:space="preserve"><tspan x="1505.3" textLength="331.6" lengthAdjust="spacingAndGlyphs">PVC/CNT</tspan>  <tspan x="1879.7" textLength="108.8" lengthAdjust="spacingAndGlyphs">2%</tspan></text>
<text y="585.6" font-size="83" xml:space="preserve"><tspan x="1505.3" textLength="331.6" lengthAdjust="spacingAndGlyphs">PVC/CNT</tspan>  <tspan x="1880.5" textLength="108.0" lengthAdjust="spacingAndGlyphs">3%</tspan></text>
</g>
<line x1="1319.8" y1="197" x2="1477.8" y2="197" stroke="#000000" stroke-width="19.5" stroke-linecap="round"/>
<line x1="1319.8" y1="289" x2="1475.0" y2="289" stroke="#b01e26" stroke-width="19.5" stroke-linecap="round"/>
<line x1="1319.8" y1="374" x2="1475.0" y2="374" stroke="#42427c" stroke-width="19.5" stroke-linecap="round"/>
<line x1="1323.2" y1="466" x2="1473.5" y2="466" stroke="#a0489e" stroke-width="19.5" stroke-linecap="round"/>
<line x1="1319.8" y1="556" x2="1475.0" y2="556" stroke="#2a602a" stroke-width="19.5" stroke-linecap="round"/>
</g>
</svg>
</body></html>
